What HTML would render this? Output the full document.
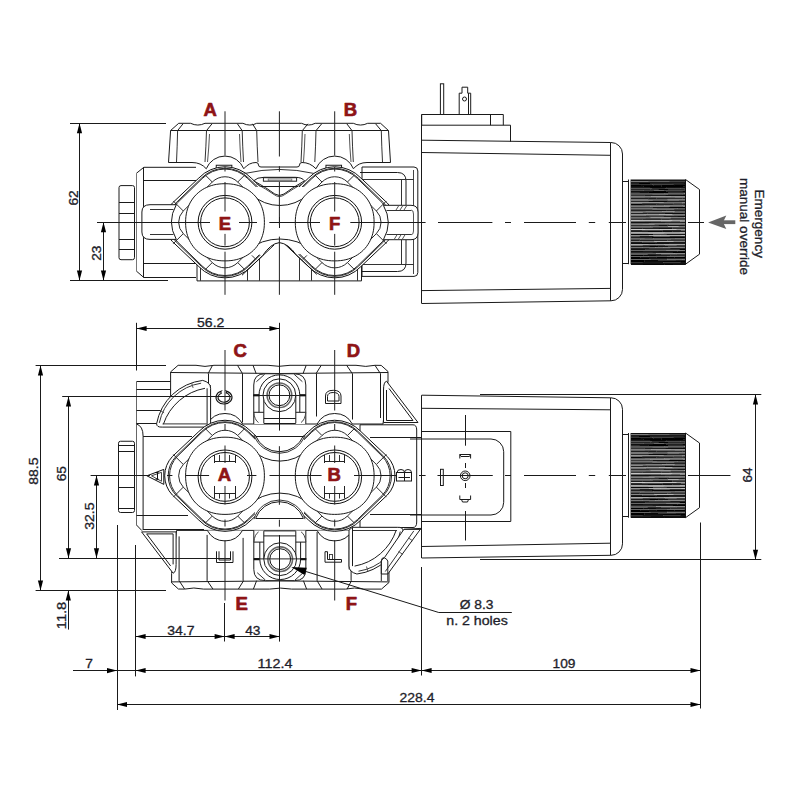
<!DOCTYPE html>
<html><head><meta charset="utf-8"><style>
html,body{margin:0;padding:0;background:#fff;}
svg{display:block;}
</style></head><body>
<svg width="800" height="800" viewBox="0 0 800 800" shape-rendering="geometricPrecision">
<rect width="800" height="800" fill="#fff"/>
<path d="M168.5 162.5 L170.6 130.5 L178.7 123.3 L190.6 123.3 Q197.8 126.8 205 123.3 L242.9 123.3 Q249.8 126.8 256.7 123.3 L301.6 123.3 Q308.4 126.8 315.2 123.3 L353.3 123.3 Q360.5 126.8 367.7 123.3 L380.6 123.3 L388.5 130.6 L390.5 162.5 Z" stroke="none" stroke-width="0" fill="#fff"/>
<path d="M168.5 162.5 L170.6 130.5 L178.7 123.3 L190.6 123.3 Q197.8 126.8 205 123.3 L242.9 123.3 Q249.8 126.8 256.7 123.3 L301.6 123.3 Q308.4 126.8 315.2 123.3 L353.3 123.3 Q360.5 126.8 367.7 123.3 L380.6 123.3 L388.5 130.6 L390.5 162.5" stroke="#1a1a1a" stroke-width="1" fill="none"/>
<line x1="170.6" y1="130.5" x2="388.5" y2="130.5" stroke="#1a1a1a" stroke-width="1"/>
<line x1="183" y1="123.8" x2="177.6" y2="130.6" stroke="#1a1a1a" stroke-width="1"/>
<path d="M177.6 130.6 Q177.27 146 176.5 162" stroke="#333" stroke-width="1" fill="none"/>
<line x1="212" y1="123.8" x2="206.5" y2="130.6" stroke="#1a1a1a" stroke-width="1"/>
<path d="M206.5 130.6 Q206.05 146 205 162" stroke="#333" stroke-width="1" fill="none"/>
<line x1="237.4" y1="123.8" x2="242.2" y2="130.6" stroke="#1a1a1a" stroke-width="1"/>
<path d="M242.2 130.6 Q242.59 146 243.5 162" stroke="#333" stroke-width="1" fill="none"/>
<line x1="252.5" y1="123.8" x2="256.7" y2="130.6" stroke="#1a1a1a" stroke-width="1"/>
<path d="M256.7 130.6 Q257.09 146 258 162" stroke="#333" stroke-width="1" fill="none"/>
<line x1="308" y1="123.8" x2="302.3" y2="130.6" stroke="#1a1a1a" stroke-width="1"/>
<path d="M302.3 130.6 Q301.91 146 301 162" stroke="#333" stroke-width="1" fill="none"/>
<line x1="321.7" y1="123.8" x2="316" y2="130.6" stroke="#1a1a1a" stroke-width="1"/>
<path d="M316 130.6 Q315.64 146 314.8 162" stroke="#333" stroke-width="1" fill="none"/>
<line x1="346.8" y1="123.8" x2="352" y2="130.6" stroke="#1a1a1a" stroke-width="1"/>
<path d="M352 130.6 Q352.39 146 353.3 162" stroke="#333" stroke-width="1" fill="none"/>
<line x1="375.6" y1="123.8" x2="381.3" y2="130.6" stroke="#1a1a1a" stroke-width="1"/>
<path d="M381.3 130.6 Q381.66 146 382.5 162" stroke="#333" stroke-width="1" fill="none"/>
<path d="M209.5 134 Q208.9 148 207.5 162" stroke="#555" stroke-width="1" fill="none"/>
<path d="M239.5 134 Q239.95 148 241 162" stroke="#555" stroke-width="1" fill="none"/>
<path d="M305 134 Q304.55 148 303.5 162" stroke="#555" stroke-width="1" fill="none"/>
<path d="M349.3 134 Q349.81 148 351 162" stroke="#555" stroke-width="1" fill="none"/>
<path d="M168.5 162.5 L192 162.5 Q201 162.5 206.3 168.8" stroke="#1a1a1a" stroke-width="1" fill="none"/>
<path d="M243.7 168.8 Q249 162.5 256 162.5 Q258.5 162.5 258.5 165 Q258.5 167 261 167 L297 167 Q299.5 167 299.5 165 Q299.5 162.5 302 162.5 Q310 162.5 316 168.8" stroke="#1a1a1a" stroke-width="1" fill="none"/>
<path d="M353.4 168.8 Q358.5 162.5 367 162.5 L390.5 162.5" stroke="#1a1a1a" stroke-width="1" fill="none"/>
<rect x="119" y="185.6" width="15.5" height="74.1" rx="2" stroke="#1a1a1a" stroke-width="1" fill="#fff"/>
<line x1="119" y1="202.5" x2="134.5" y2="202.5" stroke="#1a1a1a" stroke-width="1"/>
<line x1="119" y1="213.5" x2="134.5" y2="213.5" stroke="#1a1a1a" stroke-width="1"/>
<line x1="119" y1="239.5" x2="134.5" y2="239.5" stroke="#1a1a1a" stroke-width="1"/>
<line x1="119" y1="249.5" x2="134.5" y2="249.5" stroke="#1a1a1a" stroke-width="1"/>
<path d="M136.3 173.4 L143.8 167.3 L196 167.3 L196 277.5 L143.8 277.5 L136.3 271 Z" stroke="none" stroke-width="0" fill="#fff"/>
<path d="M136.3 173.4 L143.8 167.3 L196 167.3 M196 277.5 L143.8 277.5 L136.3 271" stroke="#1a1a1a" stroke-width="1" fill="none"/>
<line x1="136.5" y1="173.4" x2="136.5" y2="271" stroke="#777" stroke-width="1"/>
<line x1="143.5" y1="167.3" x2="143.5" y2="277.5" stroke="#1a1a1a" stroke-width="1"/>
<line x1="143.8" y1="180.5" x2="196" y2="180.5" stroke="#1a1a1a" stroke-width="1"/>
<line x1="143.8" y1="263.5" x2="196" y2="263.5" stroke="#1a1a1a" stroke-width="1"/>
<path d="M362 167 L414 167 Q417.8 167 417.8 171 L417.8 272.5 Q417.8 276.4 414 276.4 L362 276.4 Z" stroke="#1a1a1a" stroke-width="1" fill="#fff"/>
<line x1="413.5" y1="170" x2="413.5" y2="274" stroke="#444" stroke-width="1"/>
<path d="M360 172.5 L397.5 172.5 Q406 172.5 406 181 L406 205" stroke="#1a1a1a" stroke-width="1" fill="none"/>
<path d="M360 271.5 L397.5 271.5 Q406 271.5 406 263 L406 240" stroke="#1a1a1a" stroke-width="1" fill="none"/>
<line x1="360" y1="179.5" x2="413.9" y2="179.5" stroke="#333" stroke-width="1"/>
<line x1="360" y1="264.5" x2="413.9" y2="264.5" stroke="#333" stroke-width="1"/>
<line x1="401.5" y1="179.5" x2="401.5" y2="205" stroke="#333" stroke-width="1"/>
<line x1="401.5" y1="239" x2="401.5" y2="264.5" stroke="#333" stroke-width="1"/>
<path d="M197 262 L197 280.9 L361.5 280.9 L361.5 262" stroke="#1a1a1a" stroke-width="1" fill="#fff"/>
<line x1="200.5" y1="245" x2="200.5" y2="280.9" stroke="#333" stroke-width="1"/>
<line x1="247.5" y1="245" x2="247.5" y2="280.9" stroke="#333" stroke-width="1"/>
<line x1="259.5" y1="245" x2="259.5" y2="280.9" stroke="#333" stroke-width="1"/>
<line x1="299.5" y1="245" x2="299.5" y2="280.9" stroke="#333" stroke-width="1"/>
<line x1="311.5" y1="245" x2="311.5" y2="280.9" stroke="#333" stroke-width="1"/>
<line x1="357.5" y1="245" x2="357.5" y2="280.9" stroke="#333" stroke-width="1"/>
<path d="M206.25 168.75 A20.2 20.2 0 0 1 243.75 168.75" stroke="#1a1a1a" stroke-width="1" fill="#fff"/>
<rect x="216.25" y="165.25" width="15.6" height="3.5" rx="0" stroke="#1a1a1a" stroke-width="1" fill="none"/>
<path d="M315.95 168.75 A20.2 20.2 0 0 1 353.45 168.75" stroke="#1a1a1a" stroke-width="1" fill="#fff"/>
<rect x="325.95" y="165.25" width="15.6" height="3.5" rx="0" stroke="#1a1a1a" stroke-width="1" fill="none"/>
<path d="M251.16 178.03 L277.65 203.07 A28 28 0 0 1 277.65 241.53 L251.16 266.57 A36 36 0 0 1 198.84 266.57 L172.35 241.53 A28 28 0 0 1 172.35 203.07 L198.84 178.03 A36 36 0 0 1 251.16 178.03 Z" stroke="#111" stroke-width="1" fill="#fff"/>
<path d="M360.86 178.03 L387.35 203.07 A28 28 0 0 1 387.35 241.53 L360.86 266.57 A36 36 0 0 1 308.54 266.57 L282.05 241.53 A28 28 0 0 1 282.05 203.07 L308.54 178.03 A36 36 0 0 1 360.86 178.03 Z" stroke="#111" stroke-width="1" fill="#fff"/>
<path d="M248.68 178.29 L273.91 202.79 A28 28 0 0 1 273.91 241.81 L248.68 266.31 A33 33 0 0 1 201.32 266.31 L176.09 241.81 A28 28 0 0 1 176.09 202.79 L201.32 178.29 A33 33 0 0 1 248.68 178.29 Z" stroke="#2a2a2a" stroke-width="1" fill="none"/>
<path d="M247.88 178.67 L272.48 202.72 A28 28 0 0 1 272.48 241.88 L247.88 265.93 A32 32 0 0 1 202.12 265.93 L177.52 241.88 A28 28 0 0 1 177.52 202.72 L202.12 178.67 A32 32 0 0 1 247.88 178.67 Z" stroke="#2a2a2a" stroke-width="1" fill="none"/>
<path d="M237.73 182.03 L266.69 210.99 A16 16 0 0 1 266.69 233.61 L237.73 262.57 A18 18 0 0 1 212.27 262.57 L183.31 233.61 A16 16 0 0 1 183.31 210.99 L212.27 182.03 A18 18 0 0 1 237.73 182.03 Z" stroke="#2a2a2a" stroke-width="1" fill="none"/>
<line x1="212.27" y1="182.03" x2="205.27" y2="175.03" stroke="#2a2a2a" stroke-width="1"/>
<line x1="237.73" y1="182.03" x2="244.73" y2="175.03" stroke="#2a2a2a" stroke-width="1"/>
<line x1="266.69" y1="210.99" x2="276.69" y2="200.99" stroke="#2a2a2a" stroke-width="1"/>
<line x1="266.69" y1="233.61" x2="276.69" y2="243.61" stroke="#2a2a2a" stroke-width="1"/>
<line x1="237.73" y1="262.57" x2="244.73" y2="269.57" stroke="#2a2a2a" stroke-width="1"/>
<line x1="212.27" y1="262.57" x2="205.27" y2="269.57" stroke="#2a2a2a" stroke-width="1"/>
<line x1="183.31" y1="233.61" x2="173.31" y2="243.61" stroke="#2a2a2a" stroke-width="1"/>
<line x1="183.31" y1="210.99" x2="173.31" y2="200.99" stroke="#2a2a2a" stroke-width="1"/>
<path d="M358.38 178.29 L383.61 202.79 A28 28 0 0 1 383.61 241.81 L358.38 266.31 A33 33 0 0 1 311.02 266.31 L285.79 241.81 A28 28 0 0 1 285.79 202.79 L311.02 178.29 A33 33 0 0 1 358.38 178.29 Z" stroke="#2a2a2a" stroke-width="1" fill="none"/>
<path d="M357.58 178.67 L382.18 202.72 A28 28 0 0 1 382.18 241.88 L357.58 265.93 A32 32 0 0 1 311.82 265.93 L287.22 241.88 A28 28 0 0 1 287.22 202.72 L311.82 178.67 A32 32 0 0 1 357.58 178.67 Z" stroke="#2a2a2a" stroke-width="1" fill="none"/>
<path d="M347.43 182.03 L376.39 210.99 A16 16 0 0 1 376.39 233.61 L347.43 262.57 A18 18 0 0 1 321.97 262.57 L293.01 233.61 A16 16 0 0 1 293.01 210.99 L321.97 182.03 A18 18 0 0 1 347.43 182.03 Z" stroke="#2a2a2a" stroke-width="1" fill="none"/>
<line x1="321.97" y1="182.03" x2="314.97" y2="175.03" stroke="#2a2a2a" stroke-width="1"/>
<line x1="347.43" y1="182.03" x2="354.43" y2="175.03" stroke="#2a2a2a" stroke-width="1"/>
<line x1="376.39" y1="210.99" x2="386.39" y2="200.99" stroke="#2a2a2a" stroke-width="1"/>
<line x1="376.39" y1="233.61" x2="386.39" y2="243.61" stroke="#2a2a2a" stroke-width="1"/>
<line x1="347.43" y1="262.57" x2="354.43" y2="269.57" stroke="#2a2a2a" stroke-width="1"/>
<line x1="321.97" y1="262.57" x2="314.97" y2="269.57" stroke="#2a2a2a" stroke-width="1"/>
<line x1="293.01" y1="233.61" x2="283.01" y2="243.61" stroke="#2a2a2a" stroke-width="1"/>
<line x1="293.01" y1="210.99" x2="283.01" y2="200.99" stroke="#2a2a2a" stroke-width="1"/>
<path d="M255 187 L304 187 L304 245 L255 245 Z" stroke="none" stroke-width="0" fill="#fff"/>
<path d="M251.6 194.5 A41.78 41.78 0 0 0 308.1 194.5" stroke="#1a1a1a" stroke-width="1" fill="none"/>
<path d="M247.3 250 A38.9 38.9 0 0 1 312.4 250 L296.3 255.00 Q288.3 243.5 279.4 242.6 Q270.5 243.5 262.5 255.85 Z" stroke="none" stroke-width="0" fill="#fff"/>
<path d="M247.3 250 A53.66 53.66 0 0 1 312.4 250" stroke="#1a1a1a" stroke-width="1" fill="none"/>
<path d="M242.0 275.23 L262.5 255.85 Q270.5 243.5 279.4 242.6 Q288.3 243.5 296.3 255.00 L316.8 274.38" stroke="#111" stroke-width="1" fill="none"/>
<line x1="251.9" y1="255.4" x2="255.9" y2="259.4" stroke="#333" stroke-width="1"/>
<line x1="302.9" y1="259.4" x2="306.9" y2="255.4" stroke="#333" stroke-width="1"/>
<path d="M244.5 173.5 A154.25 154.25 0 0 1 314.3 173.5" stroke="#333" stroke-width="1" fill="none"/>
<path d="M253.7 180.8 Q257 177.3 264 177.3 L295 177.3 Q302 177.3 304.5 180.8 Q292 188 284 194 Q279.4 197 274.8 194 Q267 188 253.7 180.8 Z" stroke="#1a1a1a" stroke-width="1" fill="#fff"/>
<path d="M256 183.5 Q266 189 274 194.5 Q279.4 198.5 284.8 194.5 Q293 189 302.5 183.5" stroke="#444" stroke-width="1" fill="none"/>
<line x1="260.8" y1="186.5" x2="298" y2="186.5" stroke="#1a1a1a" stroke-width="1"/>
<rect x="263.4" y="177.7" width="33.2" height="3.5" rx="0" stroke="#222" stroke-width="1" fill="none"/>
<rect x="268.2" y="179" width="23.6" height="1.75" rx="0" stroke="#666" stroke-width="0.8" fill="none"/>
<path d="M264.4 222.3 L264.32 225.35 L264.09 228.11 L263.7 230.74 L263.15 233.28 L262.45 235.73 L261.6 238.1 L260.61 240.37 L259.47 242.56 L258.18 244.64 L256.77 246.63 L255.22 248.5 L253.54 250.26 L251.74 251.9 L249.83 253.42 L247.81 254.81 L245.68 256.07 L243.45 257.18 L241.12 258.16 L238.71 258.99 L236.21 259.68 L233.61 260.21 L230.93 260.59 L228.12 260.82 L225 260.9 L221.88 260.82 L219.07 260.59 L216.39 260.21 L213.79 259.68 L211.29 258.99 L208.88 258.16 L206.55 257.18 L204.32 256.07 L202.19 254.81 L200.17 253.42 L198.26 251.9 L196.46 250.26 L194.78 248.5 L193.23 246.63 L191.82 244.64 L190.53 242.56 L189.39 240.37 L188.4 238.1 L187.55 235.73 L186.85 233.28 L186.3 230.74 L185.91 228.11 L185.68 225.35 L185.6 222.3 L185.68 219.25 L185.91 216.49 L186.3 213.86 L186.85 211.32 L187.55 208.87 L188.4 206.5 L189.39 204.23 L190.53 202.04 L191.82 199.96 L193.23 197.97 L194.78 196.1 L196.46 194.34 L198.26 192.7 L200.17 191.18 L202.19 189.79 L204.32 188.53 L206.55 187.42 L208.88 186.44 L211.29 185.61 L213.79 184.92 L216.39 184.39 L219.07 184.01 L221.88 183.78 L225 183.7 L228.12 183.78 L230.93 184.01 L233.61 184.39 L236.21 184.92 L238.71 185.61 L241.12 186.44 L243.45 187.42 L245.68 188.53 L247.81 189.79 L249.83 191.18 L251.74 192.7 L253.54 194.34 L255.22 196.1 L256.77 197.97 L258.18 199.96 L259.47 202.04 L260.61 204.23 L261.6 206.5 L262.45 208.87 L263.15 211.32 L263.7 213.86 L264.09 216.49 L264.32 219.25 Z" stroke="#1a1a1a" stroke-width="1" fill="#fff"/>
<circle cx="225" cy="222.3" r="26.9" stroke="#111" stroke-width="1" fill="none"/>
<circle cx="225" cy="222.3" r="24.4" stroke="#111" stroke-width="1" fill="none"/>
<path d="M374.1 222.3 L374.02 225.35 L373.79 228.11 L373.4 230.74 L372.85 233.28 L372.15 235.73 L371.3 238.1 L370.31 240.37 L369.17 242.56 L367.88 244.64 L366.47 246.63 L364.92 248.5 L363.24 250.26 L361.44 251.9 L359.53 253.42 L357.51 254.81 L355.38 256.07 L353.15 257.18 L350.82 258.16 L348.41 258.99 L345.91 259.68 L343.31 260.21 L340.63 260.59 L337.82 260.82 L334.7 260.9 L331.58 260.82 L328.77 260.59 L326.09 260.21 L323.49 259.68 L320.99 258.99 L318.58 258.16 L316.25 257.18 L314.02 256.07 L311.89 254.81 L309.87 253.42 L307.96 251.9 L306.16 250.26 L304.48 248.5 L302.93 246.63 L301.52 244.64 L300.23 242.56 L299.09 240.37 L298.1 238.1 L297.25 235.73 L296.55 233.28 L296 230.74 L295.61 228.11 L295.38 225.35 L295.3 222.3 L295.38 219.25 L295.61 216.49 L296 213.86 L296.55 211.32 L297.25 208.87 L298.1 206.5 L299.09 204.23 L300.23 202.04 L301.52 199.96 L302.93 197.97 L304.48 196.1 L306.16 194.34 L307.96 192.7 L309.87 191.18 L311.89 189.79 L314.02 188.53 L316.25 187.42 L318.58 186.44 L320.99 185.61 L323.49 184.92 L326.09 184.39 L328.77 184.01 L331.58 183.78 L334.7 183.7 L337.82 183.78 L340.63 184.01 L343.31 184.39 L345.91 184.92 L348.41 185.61 L350.82 186.44 L353.15 187.42 L355.38 188.53 L357.51 189.79 L359.53 191.18 L361.44 192.7 L363.24 194.34 L364.92 196.1 L366.47 197.97 L367.88 199.96 L369.17 202.04 L370.31 204.23 L371.3 206.5 L372.15 208.87 L372.85 211.32 L373.4 213.86 L373.79 216.49 L374.02 219.25 Z" stroke="#1a1a1a" stroke-width="1" fill="#fff"/>
<circle cx="334.7" cy="222.3" r="26.9" stroke="#111" stroke-width="1" fill="none"/>
<circle cx="334.7" cy="222.3" r="24.4" stroke="#111" stroke-width="1" fill="none"/>
<path d="M176.3 204.7 L150 204.7 Q141.9 204.7 141.9 212 L141.9 232 Q141.9 239.4 150 239.4 L176.3 239.4 Q166.5 222 176.3 204.7 Z" stroke="#1a1a1a" stroke-width="1" fill="#fff"/>
<line x1="150" y1="209.5" x2="173.5" y2="209.5" stroke="#333" stroke-width="1"/>
<line x1="150" y1="234.5" x2="173.5" y2="234.5" stroke="#333" stroke-width="1"/>
<path d="M383.4 205.3 L411 205.3 Q418 205.3 418 212 L418 233 Q418 239.7 411 239.7 L383.4 239.7 Q393.2 222.5 383.4 205.3 Z" stroke="#1a1a1a" stroke-width="1" fill="#fff"/>
<line x1="386.5" y1="210.5" x2="411" y2="210.5" stroke="#333" stroke-width="1"/>
<line x1="386.5" y1="234.5" x2="411" y2="234.5" stroke="#333" stroke-width="1"/>
<path d="M411 210 Q413.5 210 413.5 214 L413.5 231 Q413.5 234.8 411 234.8" stroke="#555" stroke-width="1" fill="none"/>
<line x1="396" y1="210" x2="399" y2="205.3" stroke="#555" stroke-width="1"/>
<line x1="394" y1="239.7" x2="397" y2="234.8" stroke="#555" stroke-width="1"/>
<line x1="400" y1="210" x2="403" y2="205.3" stroke="#555" stroke-width="1"/>
<line x1="398" y1="239.7" x2="401" y2="234.8" stroke="#555" stroke-width="1"/>
<line x1="404" y1="210" x2="407" y2="205.3" stroke="#555" stroke-width="1"/>
<line x1="402" y1="239.7" x2="405" y2="234.8" stroke="#555" stroke-width="1"/>
<path d="M136.5 381.5 L168 381.5 L190 381.5 L190 530.6 L141.9 530.6 L136.5 525 Z" stroke="none" stroke-width="0" fill="#fff"/>
<path d="M136.5 381.5 L190 381.5 M141.9 530.6 L136.5 525" stroke="#1a1a1a" stroke-width="1" fill="none"/>
<line x1="136.5" y1="381.5" x2="136.5" y2="525" stroke="#666" stroke-width="1"/>
<line x1="136.5" y1="389.5" x2="208" y2="389.5" stroke="#1a1a1a" stroke-width="1"/>
<line x1="136.5" y1="410.5" x2="208" y2="410.5" stroke="#1a1a1a" stroke-width="1"/>
<line x1="136.5" y1="423.5" x2="208" y2="423.5" stroke="#1a1a1a" stroke-width="1"/>
<path d="M136.5 424 Q143.1 426 143.1 436.3 L143.1 530" stroke="#1a1a1a" stroke-width="1" fill="none"/>
<line x1="143.1" y1="436.5" x2="192" y2="436.5" stroke="#1a1a1a" stroke-width="1"/>
<line x1="136.5" y1="515.5" x2="188" y2="515.5" stroke="#1a1a1a" stroke-width="1"/>
<line x1="143.1" y1="529.5" x2="204" y2="529.5" stroke="#1a1a1a" stroke-width="1"/>
<rect x="118.5" y="441.25" width="16" height="71.25" rx="2" stroke="#1a1a1a" stroke-width="1" fill="#fff"/>
<line x1="118.5" y1="445.5" x2="134.5" y2="445.5" stroke="#1a1a1a" stroke-width="1"/>
<line x1="118.5" y1="451.5" x2="134.5" y2="451.5" stroke="#1a1a1a" stroke-width="1"/>
<line x1="118.5" y1="487.5" x2="134.5" y2="487.5" stroke="#1a1a1a" stroke-width="1"/>
<line x1="118.5" y1="508.5" x2="134.5" y2="508.5" stroke="#1a1a1a" stroke-width="1"/>
<path d="M360 424.8 L413 424.8 Q416.7 424.8 416.7 430 L416.7 522 Q416.7 527.5 413 527.5 L360 527.5 Z" stroke="#1a1a1a" stroke-width="1" fill="#fff"/>
<line x1="370" y1="437.5" x2="421" y2="437.5" stroke="#1a1a1a" stroke-width="1"/>
<line x1="370" y1="514.5" x2="421" y2="514.5" stroke="#1a1a1a" stroke-width="1"/>
<path d="M170.6 382 L170.6 371.9 L178.1 365.3 L196 365.3 Q205 367.5 214 365.3 L268 365.3 Q279 367.3 290 365.3 L356 365.3 Q366 367.5 375 365.3 L381.2 365.4 L388 371.5 L388 381 L383 424 L170.6 424 Z" stroke="#1a1a1a" stroke-width="1" fill="#fff"/>
<path d="M171 372.5 Q280 374.5 388 372.5" stroke="#1a1a1a" stroke-width="1" fill="none"/>
<line x1="212.5" y1="365.3" x2="208.1" y2="373.7" stroke="#1a1a1a" stroke-width="1"/>
<line x1="237.5" y1="365.3" x2="242.5" y2="373.7" stroke="#1a1a1a" stroke-width="1"/>
<line x1="253" y1="365.3" x2="256.2" y2="373.7" stroke="#1a1a1a" stroke-width="1"/>
<line x1="306.2" y1="365.3" x2="303" y2="373.7" stroke="#1a1a1a" stroke-width="1"/>
<line x1="321.2" y1="365.4" x2="316" y2="373.7" stroke="#1a1a1a" stroke-width="1"/>
<line x1="346.7" y1="365.4" x2="352.4" y2="373.7" stroke="#1a1a1a" stroke-width="1"/>
<line x1="375" y1="365.4" x2="380.5" y2="373.7" stroke="#1a1a1a" stroke-width="1"/>
<line x1="208.5" y1="373.7" x2="208.5" y2="425" stroke="#1a1a1a" stroke-width="1"/>
<line x1="242.5" y1="373.7" x2="242.5" y2="422.5" stroke="#1a1a1a" stroke-width="1"/>
<line x1="316.5" y1="373.7" x2="316.5" y2="416.5" stroke="#1a1a1a" stroke-width="1"/>
<line x1="352.5" y1="373.7" x2="352.5" y2="419.5" stroke="#1a1a1a" stroke-width="1"/>
<line x1="380.5" y1="373.7" x2="380.5" y2="418" stroke="#1a1a1a" stroke-width="1"/>
<line x1="210.5" y1="385" x2="210.5" y2="422.5" stroke="#555" stroke-width="1"/>
<path d="M386.5 381.2 L418 422.5 L383.5 422.5 L383.5 390 Q383.5 382 386.5 381.2" stroke="#1a1a1a" stroke-width="1" fill="#fff"/>
<line x1="389" y1="388.5" x2="413" y2="420.5" stroke="#1a1a1a" stroke-width="1"/>
<line x1="386.5" y1="390" x2="386.5" y2="420.5" stroke="#1a1a1a" stroke-width="1"/>
<line x1="386.5" y1="420.5" x2="413" y2="420.5" stroke="#1a1a1a" stroke-width="1"/>
<path d="M253.75 424 L253.75 385 Q253.75 373.75 265 373.75 L294 373.75 Q305.8 373.75 305.8 385 L305.8 424" stroke="#1a1a1a" stroke-width="1" fill="#fff"/>
<line x1="256.4" y1="381.7" x2="264.7" y2="374.25" stroke="#333" stroke-width="1"/>
<line x1="302.4" y1="381.7" x2="294.1" y2="374.25" stroke="#333" stroke-width="1"/>
<path d="M259 412.3 L259 395.25 A20.4 20.4 0 0 1 299.8 395.25 L299.8 412.3" stroke="#1a1a1a" stroke-width="1" fill="none"/>
<path d="M253.75 412.3 L263.8 412.3 M295.8 412.3 L305.8 412.3" stroke="#1a1a1a" stroke-width="1" fill="none"/>
<path d="M253.75 412.3 Q254.5 420 258.5 422.5 M305.8 412.3 Q305 420 301 422.5" stroke="#444" stroke-width="1" fill="none"/>
<path d="M263.8 423.25 L263.8 395.25 M295.8 395.25 L295.8 423.25" stroke="#1a1a1a" stroke-width="1" fill="none"/>
<circle cx="279.4" cy="395.25" r="16.4" stroke="#1a1a1a" stroke-width="1" fill="#fff"/>
<line x1="263.8" y1="418.5" x2="295.8" y2="418.5" stroke="#1a1a1a" stroke-width="1"/>
<line x1="263.8" y1="423.5" x2="295.8" y2="423.5" stroke="#1a1a1a" stroke-width="1"/>
<circle cx="279.4" cy="395.25" r="12.3" stroke="#666" stroke-width="1.6" fill="none"/>
<circle cx="279.4" cy="395.25" r="10.4" stroke="#111" stroke-width="1" fill="none"/>
<line x1="253.3" y1="395.5" x2="305.8" y2="395.5" stroke="#222" stroke-width="1"/>
<line x1="253.3" y1="395.25" x2="259.4" y2="395.25" stroke="#111" stroke-width="2.2"/>
<line x1="300" y1="395.25" x2="305.8" y2="395.25" stroke="#111" stroke-width="2.2"/>
<path d="M207.4 424 A20 20 0 0 1 242.6 424" stroke="#1a1a1a" stroke-width="1" fill="#fff"/>
<path d="M317.1 424 A20 20 0 0 1 352.3 424" stroke="#1a1a1a" stroke-width="1" fill="#fff"/>
<g transform="rotate(180 279.8 477.2)">
<path d="M170.6 382 L170.6 371.9 L178.1 365.3 L196 365.3 Q205 367.5 214 365.3 L268 365.3 Q279 367.3 290 365.3 L356 365.3 Q366 367.5 375 365.3 L381.2 365.4 L388 371.5 L388 381 L383 424 L170.6 424 Z" stroke="#1a1a1a" stroke-width="1" fill="#fff"/>
<path d="M171 372.5 Q280 374.5 388 372.5" stroke="#1a1a1a" stroke-width="1" fill="none"/>
<line x1="212.5" y1="365.3" x2="208.1" y2="373.7" stroke="#1a1a1a" stroke-width="1"/>
<line x1="237.5" y1="365.3" x2="242.5" y2="373.7" stroke="#1a1a1a" stroke-width="1"/>
<line x1="253" y1="365.3" x2="256.2" y2="373.7" stroke="#1a1a1a" stroke-width="1"/>
<line x1="306.2" y1="365.3" x2="303" y2="373.7" stroke="#1a1a1a" stroke-width="1"/>
<line x1="321.2" y1="365.4" x2="316" y2="373.7" stroke="#1a1a1a" stroke-width="1"/>
<line x1="346.7" y1="365.4" x2="352.4" y2="373.7" stroke="#1a1a1a" stroke-width="1"/>
<line x1="375" y1="365.4" x2="380.5" y2="373.7" stroke="#1a1a1a" stroke-width="1"/>
<line x1="208.5" y1="373.7" x2="208.5" y2="425" stroke="#1a1a1a" stroke-width="1"/>
<line x1="242.5" y1="373.7" x2="242.5" y2="422.5" stroke="#1a1a1a" stroke-width="1"/>
<line x1="316.5" y1="373.7" x2="316.5" y2="416.5" stroke="#1a1a1a" stroke-width="1"/>
<line x1="352.5" y1="373.7" x2="352.5" y2="419.5" stroke="#1a1a1a" stroke-width="1"/>
<line x1="380.5" y1="373.7" x2="380.5" y2="418" stroke="#1a1a1a" stroke-width="1"/>
<line x1="210.5" y1="385" x2="210.5" y2="422.5" stroke="#555" stroke-width="1"/>
<path d="M386.5 381.2 L418 422.5 L383.5 422.5 L383.5 390 Q383.5 382 386.5 381.2" stroke="#1a1a1a" stroke-width="1" fill="#fff"/>
<line x1="389" y1="388.5" x2="413" y2="420.5" stroke="#1a1a1a" stroke-width="1"/>
<line x1="386.5" y1="390" x2="386.5" y2="420.5" stroke="#1a1a1a" stroke-width="1"/>
<line x1="386.5" y1="420.5" x2="413" y2="420.5" stroke="#1a1a1a" stroke-width="1"/>
<path d="M253.75 424 L253.75 385 Q253.75 373.75 265 373.75 L294 373.75 Q305.8 373.75 305.8 385 L305.8 424" stroke="#1a1a1a" stroke-width="1" fill="#fff"/>
<line x1="256.4" y1="381.7" x2="264.7" y2="374.25" stroke="#333" stroke-width="1"/>
<line x1="302.4" y1="381.7" x2="294.1" y2="374.25" stroke="#333" stroke-width="1"/>
<path d="M259 412.3 L259 395.25 A20.4 20.4 0 0 1 299.8 395.25 L299.8 412.3" stroke="#1a1a1a" stroke-width="1" fill="none"/>
<path d="M253.75 412.3 L263.8 412.3 M295.8 412.3 L305.8 412.3" stroke="#1a1a1a" stroke-width="1" fill="none"/>
<path d="M253.75 412.3 Q254.5 420 258.5 422.5 M305.8 412.3 Q305 420 301 422.5" stroke="#444" stroke-width="1" fill="none"/>
<path d="M263.8 423.25 L263.8 395.25 M295.8 395.25 L295.8 423.25" stroke="#1a1a1a" stroke-width="1" fill="none"/>
<circle cx="279.4" cy="395.25" r="16.4" stroke="#1a1a1a" stroke-width="1" fill="#fff"/>
<line x1="263.8" y1="418.5" x2="295.8" y2="418.5" stroke="#1a1a1a" stroke-width="1"/>
<line x1="263.8" y1="423.5" x2="295.8" y2="423.5" stroke="#1a1a1a" stroke-width="1"/>
<circle cx="279.4" cy="395.25" r="12.3" stroke="#666" stroke-width="1.6" fill="none"/>
<circle cx="279.4" cy="395.25" r="10.4" stroke="#111" stroke-width="1" fill="none"/>
<line x1="253.3" y1="395.5" x2="305.8" y2="395.5" stroke="#222" stroke-width="1"/>
<line x1="253.3" y1="395.25" x2="259.4" y2="395.25" stroke="#111" stroke-width="2.2"/>
<line x1="300" y1="395.25" x2="305.8" y2="395.25" stroke="#111" stroke-width="2.2"/>
<path d="M207.4 424 A20 20 0 0 1 242.6 424" stroke="#1a1a1a" stroke-width="1" fill="#fff"/>
<path d="M317.1 424 A20 20 0 0 1 352.3 424" stroke="#1a1a1a" stroke-width="1" fill="#fff"/>
</g>
<path d="M349 530.1 L352.4 527.3 L397.4 527.3 Q403 527 403 530.7 A53.35 53.35 0 0 1 356.9 574 Q349 572 349 566 Z" stroke="#1a1a1a" stroke-width="1" fill="#fff"/>
<path d="M400.3 531.5 A50.6 50.6 0 0 1 358.5 571.2" stroke="#333" stroke-width="1" fill="none"/>
<path d="M396.25 530.1 A54.1 54.1 0 0 1 354.6 566.1" stroke="#1a1a1a" stroke-width="1" fill="none"/>
<line x1="352.9" y1="530.5" x2="397" y2="530.5" stroke="#333" stroke-width="1"/>
<line x1="352.5" y1="527.3" x2="352.5" y2="566.1" stroke="#1a1a1a" stroke-width="1"/>
<line x1="395.5" y1="541.5" x2="399.5" y2="544" stroke="#555" stroke-width="1"/>
<line x1="366.5" y1="566.5" x2="368" y2="571.5" stroke="#555" stroke-width="1"/>
<g transform="rotate(180 279.8 477.2)">
<path d="M349 530.1 L352.4 527.3 L397.4 527.3 Q403 527 403 530.7 A53.35 53.35 0 0 1 356.9 574 Q349 572 349 566 Z" stroke="#1a1a1a" stroke-width="1" fill="#fff"/>
<path d="M400.3 531.5 A50.6 50.6 0 0 1 358.5 571.2" stroke="#333" stroke-width="1" fill="none"/>
<path d="M396.25 530.1 A54.1 54.1 0 0 1 354.6 566.1" stroke="#1a1a1a" stroke-width="1" fill="none"/>
<line x1="352.9" y1="530.5" x2="397" y2="530.5" stroke="#333" stroke-width="1"/>
<line x1="352.5" y1="527.3" x2="352.5" y2="566.1" stroke="#1a1a1a" stroke-width="1"/>
<line x1="395.5" y1="541.5" x2="399.5" y2="544" stroke="#555" stroke-width="1"/>
<line x1="366.5" y1="566.5" x2="368" y2="571.5" stroke="#555" stroke-width="1"/>
</g>
<path d="M421 528.4 L387.8 574 L381.3 574 L381.3 561 Q381.3 557.5 384.5 557.5 L404 529.2 Z" stroke="#1a1a1a" stroke-width="1" fill="#fff"/>
<line x1="413.8" y1="530.9" x2="385.3" y2="571.5" stroke="#333" stroke-width="1"/>
<path d="M381.3 581 L381.3 561 Q384.5 555 387.8 561 L387.8 581" stroke="#222" stroke-width="1" fill="none"/>
<line x1="404" y1="529.5" x2="421" y2="529.5" stroke="#333" stroke-width="1"/>
<line x1="408.5" y1="538" x2="413" y2="541" stroke="#555" stroke-width="1"/>
<line x1="398.5" y1="551.5" x2="403" y2="554.5" stroke="#555" stroke-width="1"/>
<path d="M251.16 431.53 L277.65 456.57 A28 28 0 0 1 277.65 495.03 L251.16 520.07 A36 36 0 0 1 198.84 520.07 L172.35 495.03 A28 28 0 0 1 172.35 456.57 L198.84 431.53 A36 36 0 0 1 251.16 431.53 Z" stroke="#111" stroke-width="1" fill="#fff"/>
<path d="M360.86 431.53 L387.35 456.57 A28 28 0 0 1 387.35 495.03 L360.86 520.07 A36 36 0 0 1 308.54 520.07 L282.05 495.03 A28 28 0 0 1 282.05 456.57 L308.54 431.53 A36 36 0 0 1 360.86 431.53 Z" stroke="#111" stroke-width="1" fill="#fff"/>
<path d="M248.68 431.79 L273.91 456.29 A28 28 0 0 1 273.91 495.31 L248.68 519.81 A33 33 0 0 1 201.32 519.81 L176.09 495.31 A28 28 0 0 1 176.09 456.29 L201.32 431.79 A33 33 0 0 1 248.68 431.79 Z" stroke="#2a2a2a" stroke-width="1" fill="none"/>
<path d="M247.88 432.17 L272.48 456.22 A28 28 0 0 1 272.48 495.38 L247.88 519.43 A32 32 0 0 1 202.12 519.43 L177.52 495.38 A28 28 0 0 1 177.52 456.22 L202.12 432.17 A32 32 0 0 1 247.88 432.17 Z" stroke="#2a2a2a" stroke-width="1" fill="none"/>
<path d="M237.73 435.53 L266.69 464.49 A16 16 0 0 1 266.69 487.11 L237.73 516.07 A18 18 0 0 1 212.27 516.07 L183.31 487.11 A16 16 0 0 1 183.31 464.49 L212.27 435.53 A18 18 0 0 1 237.73 435.53 Z" stroke="#2a2a2a" stroke-width="1" fill="none"/>
<line x1="212.27" y1="435.53" x2="205.27" y2="428.53" stroke="#2a2a2a" stroke-width="1"/>
<line x1="237.73" y1="435.53" x2="244.73" y2="428.53" stroke="#2a2a2a" stroke-width="1"/>
<line x1="266.69" y1="464.49" x2="276.69" y2="454.49" stroke="#2a2a2a" stroke-width="1"/>
<line x1="266.69" y1="487.11" x2="276.69" y2="497.11" stroke="#2a2a2a" stroke-width="1"/>
<line x1="237.73" y1="516.07" x2="244.73" y2="523.07" stroke="#2a2a2a" stroke-width="1"/>
<line x1="212.27" y1="516.07" x2="205.27" y2="523.07" stroke="#2a2a2a" stroke-width="1"/>
<line x1="183.31" y1="487.11" x2="173.31" y2="497.11" stroke="#2a2a2a" stroke-width="1"/>
<line x1="183.31" y1="464.49" x2="173.31" y2="454.49" stroke="#2a2a2a" stroke-width="1"/>
<path d="M358.38 431.79 L383.61 456.29 A28 28 0 0 1 383.61 495.31 L358.38 519.81 A33 33 0 0 1 311.02 519.81 L285.79 495.31 A28 28 0 0 1 285.79 456.29 L311.02 431.79 A33 33 0 0 1 358.38 431.79 Z" stroke="#2a2a2a" stroke-width="1" fill="none"/>
<path d="M357.58 432.17 L382.18 456.22 A28 28 0 0 1 382.18 495.38 L357.58 519.43 A32 32 0 0 1 311.82 519.43 L287.22 495.38 A28 28 0 0 1 287.22 456.22 L311.82 432.17 A32 32 0 0 1 357.58 432.17 Z" stroke="#2a2a2a" stroke-width="1" fill="none"/>
<path d="M347.43 435.53 L376.39 464.49 A16 16 0 0 1 376.39 487.11 L347.43 516.07 A18 18 0 0 1 321.97 516.07 L293.01 487.11 A16 16 0 0 1 293.01 464.49 L321.97 435.53 A18 18 0 0 1 347.43 435.53 Z" stroke="#2a2a2a" stroke-width="1" fill="none"/>
<line x1="321.97" y1="435.53" x2="314.97" y2="428.53" stroke="#2a2a2a" stroke-width="1"/>
<line x1="347.43" y1="435.53" x2="354.43" y2="428.53" stroke="#2a2a2a" stroke-width="1"/>
<line x1="376.39" y1="464.49" x2="386.39" y2="454.49" stroke="#2a2a2a" stroke-width="1"/>
<line x1="376.39" y1="487.11" x2="386.39" y2="497.11" stroke="#2a2a2a" stroke-width="1"/>
<line x1="347.43" y1="516.07" x2="354.43" y2="523.07" stroke="#2a2a2a" stroke-width="1"/>
<line x1="321.97" y1="516.07" x2="314.97" y2="523.07" stroke="#2a2a2a" stroke-width="1"/>
<line x1="293.01" y1="487.11" x2="283.01" y2="497.11" stroke="#2a2a2a" stroke-width="1"/>
<line x1="293.01" y1="464.49" x2="283.01" y2="454.49" stroke="#2a2a2a" stroke-width="1"/>
<path d="M255 437 L304 437 L304 517 L255 517 Z" stroke="none" stroke-width="0" fill="#fff"/>
<line x1="256" y1="436.5" x2="303" y2="436.5" stroke="#1a1a1a" stroke-width="1"/>
<path d="M255.5 435.6 A25.94 25.94 0 0 0 303.5 435.6" stroke="#1a1a1a" stroke-width="1" fill="none"/>
<path d="M254 435 A26.92 26.92 0 0 0 305 435" stroke="#333" stroke-width="1" fill="none"/>
<path d="M251.6 449.4 A39.96 39.96 0 0 0 308.1 449.4" stroke="#1a1a1a" stroke-width="1" fill="none"/>
<line x1="256" y1="518.5" x2="303" y2="518.5" stroke="#1a1a1a" stroke-width="1"/>
<path d="M255.5 518.6 A25.49 25.49 0 0 1 303.5 518.6" stroke="#1a1a1a" stroke-width="1" fill="none"/>
<path d="M254 519.2 A26.53 26.53 0 0 1 305 519.2" stroke="#333" stroke-width="1" fill="none"/>
<path d="M247.3 506.5 A46.23 46.23 0 0 1 312.4 506.5" stroke="#1a1a1a" stroke-width="1" fill="none"/>
<path d="M264.4 475.8 L264.32 478.85 L264.09 481.61 L263.7 484.24 L263.15 486.78 L262.45 489.23 L261.6 491.6 L260.61 493.87 L259.47 496.06 L258.18 498.14 L256.77 500.13 L255.22 502 L253.54 503.76 L251.74 505.4 L249.83 506.92 L247.81 508.31 L245.68 509.57 L243.45 510.68 L241.12 511.66 L238.71 512.49 L236.21 513.18 L233.61 513.71 L230.93 514.09 L228.12 514.32 L225 514.4 L221.88 514.32 L219.07 514.09 L216.39 513.71 L213.79 513.18 L211.29 512.49 L208.88 511.66 L206.55 510.68 L204.32 509.57 L202.19 508.31 L200.17 506.92 L198.26 505.4 L196.46 503.76 L194.78 502 L193.23 500.13 L191.82 498.14 L190.53 496.06 L189.39 493.87 L188.4 491.6 L187.55 489.23 L186.85 486.78 L186.3 484.24 L185.91 481.61 L185.68 478.85 L185.6 475.8 L185.68 472.75 L185.91 469.99 L186.3 467.36 L186.85 464.82 L187.55 462.37 L188.4 460 L189.39 457.73 L190.53 455.54 L191.82 453.46 L193.23 451.47 L194.78 449.6 L196.46 447.84 L198.26 446.2 L200.17 444.68 L202.19 443.29 L204.32 442.03 L206.55 440.92 L208.88 439.94 L211.29 439.11 L213.79 438.42 L216.39 437.89 L219.07 437.51 L221.88 437.28 L225 437.2 L228.12 437.28 L230.93 437.51 L233.61 437.89 L236.21 438.42 L238.71 439.11 L241.12 439.94 L243.45 440.92 L245.68 442.03 L247.81 443.29 L249.83 444.68 L251.74 446.2 L253.54 447.84 L255.22 449.6 L256.77 451.47 L258.18 453.46 L259.47 455.54 L260.61 457.73 L261.6 460 L262.45 462.37 L263.15 464.82 L263.7 467.36 L264.09 469.99 L264.32 472.75 Z" stroke="#1a1a1a" stroke-width="1" fill="#fff"/>
<circle cx="225" cy="476.9" r="26.9" stroke="#111" stroke-width="1" fill="none"/>
<circle cx="225" cy="476.9" r="24.4" stroke="#111" stroke-width="1" fill="none"/>
<line x1="214.5" y1="455" x2="214.5" y2="463" stroke="#222" stroke-width="1"/>
<line x1="235.5" y1="455" x2="235.5" y2="463" stroke="#222" stroke-width="1"/>
<line x1="219.5" y1="461.5" x2="219.5" y2="455" stroke="#333" stroke-width="1"/>
<line x1="229.5" y1="461.5" x2="229.5" y2="455" stroke="#333" stroke-width="1"/>
<line x1="214.5" y1="461.5" x2="235" y2="461.5" stroke="#222" stroke-width="1"/>
<line x1="214.5" y1="486" x2="214.5" y2="498.5" stroke="#222" stroke-width="1"/>
<line x1="235.5" y1="486" x2="235.5" y2="498.5" stroke="#222" stroke-width="1"/>
<line x1="219.5" y1="493" x2="219.5" y2="498.5" stroke="#333" stroke-width="1"/>
<line x1="229.5" y1="493" x2="229.5" y2="498.5" stroke="#333" stroke-width="1"/>
<line x1="214.5" y1="493.5" x2="235" y2="493.5" stroke="#222" stroke-width="1"/>
<path d="M374.1 475.8 L374.02 478.85 L373.79 481.61 L373.4 484.24 L372.85 486.78 L372.15 489.23 L371.3 491.6 L370.31 493.87 L369.17 496.06 L367.88 498.14 L366.47 500.13 L364.92 502 L363.24 503.76 L361.44 505.4 L359.53 506.92 L357.51 508.31 L355.38 509.57 L353.15 510.68 L350.82 511.66 L348.41 512.49 L345.91 513.18 L343.31 513.71 L340.63 514.09 L337.82 514.32 L334.7 514.4 L331.58 514.32 L328.77 514.09 L326.09 513.71 L323.49 513.18 L320.99 512.49 L318.58 511.66 L316.25 510.68 L314.02 509.57 L311.89 508.31 L309.87 506.92 L307.96 505.4 L306.16 503.76 L304.48 502 L302.93 500.13 L301.52 498.14 L300.23 496.06 L299.09 493.87 L298.1 491.6 L297.25 489.23 L296.55 486.78 L296 484.24 L295.61 481.61 L295.38 478.85 L295.3 475.8 L295.38 472.75 L295.61 469.99 L296 467.36 L296.55 464.82 L297.25 462.37 L298.1 460 L299.09 457.73 L300.23 455.54 L301.52 453.46 L302.93 451.47 L304.48 449.6 L306.16 447.84 L307.96 446.2 L309.87 444.68 L311.89 443.29 L314.02 442.03 L316.25 440.92 L318.58 439.94 L320.99 439.11 L323.49 438.42 L326.09 437.89 L328.77 437.51 L331.58 437.28 L334.7 437.2 L337.82 437.28 L340.63 437.51 L343.31 437.89 L345.91 438.42 L348.41 439.11 L350.82 439.94 L353.15 440.92 L355.38 442.03 L357.51 443.29 L359.53 444.68 L361.44 446.2 L363.24 447.84 L364.92 449.6 L366.47 451.47 L367.88 453.46 L369.17 455.54 L370.31 457.73 L371.3 460 L372.15 462.37 L372.85 464.82 L373.4 467.36 L373.79 469.99 L374.02 472.75 Z" stroke="#1a1a1a" stroke-width="1" fill="#fff"/>
<circle cx="334.7" cy="476.9" r="26.9" stroke="#111" stroke-width="1" fill="none"/>
<circle cx="334.7" cy="476.9" r="24.4" stroke="#111" stroke-width="1" fill="none"/>
<line x1="324.5" y1="455" x2="324.5" y2="463" stroke="#222" stroke-width="1"/>
<line x1="344.5" y1="455" x2="344.5" y2="463" stroke="#222" stroke-width="1"/>
<line x1="329.5" y1="461.5" x2="329.5" y2="455" stroke="#333" stroke-width="1"/>
<line x1="339.5" y1="461.5" x2="339.5" y2="455" stroke="#333" stroke-width="1"/>
<line x1="324.2" y1="461.5" x2="344.7" y2="461.5" stroke="#222" stroke-width="1"/>
<line x1="324.5" y1="486" x2="324.5" y2="498.5" stroke="#222" stroke-width="1"/>
<line x1="344.5" y1="486" x2="344.5" y2="498.5" stroke="#222" stroke-width="1"/>
<line x1="329.5" y1="493" x2="329.5" y2="498.5" stroke="#333" stroke-width="1"/>
<line x1="339.5" y1="493" x2="339.5" y2="498.5" stroke="#333" stroke-width="1"/>
<line x1="324.2" y1="493.5" x2="344.7" y2="493.5" stroke="#222" stroke-width="1"/>
<path d="M163.8 469.4 L146.9 475.8 L163.8 484.4 Z" stroke="#111" stroke-width="1" fill="none"/>
<path d="M161.5 472.3 L151.5 475.8 L161.5 481.3 Z" stroke="#444" stroke-width="1" fill="none"/>
<line x1="157.5" y1="472.5" x2="157.5" y2="479.5" stroke="#111" stroke-width="1"/>
<line x1="155.5" y1="472.5" x2="158.5" y2="472.5" stroke="#111" stroke-width="1"/>
<line x1="155.5" y1="479.2" x2="158.5" y2="479.2" stroke="#111" stroke-width="1"/>
<rect x="396.5" y="472.5" width="15" height="8.5" rx="0" stroke="#1a1a1a" stroke-width="1" fill="none"/>
<path d="M397 472.5 Q397 469.5 401 469.5 Q404.5 469.5 404.5 472.5 Q404.5 469.5 408 469.5 Q411.5 469.5 411.5 472.5" stroke="#1a1a1a" stroke-width="1" fill="none"/>
<line x1="404.5" y1="472.5" x2="404.5" y2="481" stroke="#1a1a1a" stroke-width="1"/>
<line x1="398.5" y1="477.5" x2="410" y2="477.5" stroke="#1a1a1a" stroke-width="1"/>
<path d="M226.47 391.12 A8 6.6 0 1 1 221.00 391.28 A1 1 0 0 0 221.75 392.95 A6 4.8 0 1 0 225.85 392.83 A1 1 0 0 0 226.47 391.12 Z" stroke="#111" stroke-width="1.1" fill="none"/>
<path d="M325.5 403.5 L325.5 396 Q325.5 390.3 333.2 390.3 Q341 390.3 341 396 L341 403.5 Z" stroke="#1a1a1a" stroke-width="1" fill="none"/>
<path d="M327.5 401 L327.5 396.5 Q327.5 392.5 333.2 392.5 Q339 392.5 339 396.5 L339 401 Z" stroke="#1a1a1a" stroke-width="1" fill="none"/>
<path d="M216.5 551.3 L216.5 562.5 L233 562.5 L233 551.3" stroke="#1a1a1a" stroke-width="1" fill="none"/>
<path d="M219 551.3 L219 560 L230.5 560 L230.5 551.3" stroke="#1a1a1a" stroke-width="1" fill="none"/>
<path d="M325 551.7 L325 562.2 L341.5 562.2 L341.5 559.5 L327.5 559.5 L327.5 551.7 Z" stroke="#1a1a1a" stroke-width="1" fill="none"/>
<rect x="329.5" y="554.5" width="3" height="5" rx="0" stroke="#1a1a1a" stroke-width="0.8" fill="none"/>
<line x1="70" y1="123.5" x2="166" y2="123.5" stroke="#1a1a1a" stroke-width="1"/>
<line x1="70" y1="280.5" x2="168" y2="280.5" stroke="#1a1a1a" stroke-width="1"/>
<line x1="79.5" y1="123.3" x2="79.5" y2="280.6" stroke="#1a1a1a" stroke-width="1"/>
<path d="M79.5 123.3 L76.9 133.3 L82.1 133.3 Z" fill="#000"/>
<path d="M79.5 280.6 L76.9 270.6 L82.1 270.6 Z" fill="#000"/>
<line x1="103.5" y1="222.3" x2="103.5" y2="280.6" stroke="#1a1a1a" stroke-width="1"/>
<path d="M103.5 222.3 L100.9 232.3 L106.1 232.3 Z" fill="#000"/>
<path d="M103.5 280.6 L100.9 270.6 L106.1 270.6 Z" fill="#000"/>
<text x="77.6" y="197.9" font-family="Liberation Sans" font-size="12" font-weight="normal" fill="#1e1e2a" text-anchor="middle" textLength="15.26" lengthAdjust="spacingAndGlyphs" transform="rotate(-90 77.6 197.9)" stroke="#1e1e2a" stroke-width="0.3">62</text>
<text x="100.7" y="253.2" font-family="Liberation Sans" font-size="12" font-weight="normal" fill="#1e1e2a" text-anchor="middle" textLength="15.26" lengthAdjust="spacingAndGlyphs" transform="rotate(-90 100.7 253.2)" stroke="#1e1e2a" stroke-width="0.3">23</text>
<text x="210.2" y="116.2" font-family="Liberation Sans" font-size="18.5" font-weight="bold" fill="#8e1416" text-anchor="middle" stroke="#8e1416" stroke-width="0.7" stroke-linejoin="round">A</text>
<text x="350.4" y="116.2" font-family="Liberation Sans" font-size="18.5" font-weight="bold" fill="#8e1416" text-anchor="middle" stroke="#8e1416" stroke-width="0.7" stroke-linejoin="round">B</text>
<text x="225" y="230.2" font-family="Liberation Sans" font-size="18.5" font-weight="bold" fill="#8e1416" text-anchor="middle" stroke="#8e1416" stroke-width="0.7" stroke-linejoin="round">E</text>
<text x="334.7" y="230.2" font-family="Liberation Sans" font-size="18.5" font-weight="bold" fill="#8e1416" text-anchor="middle" stroke="#8e1416" stroke-width="0.7" stroke-linejoin="round">F</text>
<line x1="97" y1="222.5" x2="210" y2="222.5" stroke="#1a1a1a" stroke-width="1"/>
<line x1="239" y1="222.5" x2="257" y2="222.5" stroke="#1a1a1a" stroke-width="1"/>
<line x1="269.3" y1="222.5" x2="320" y2="222.5" stroke="#1a1a1a" stroke-width="1"/>
<line x1="350.3" y1="222.5" x2="425.6" y2="222.5" stroke="#1a1a1a" stroke-width="1"/>
<line x1="438" y1="222.5" x2="492.4" y2="222.5" stroke="#1a1a1a" stroke-width="1"/>
<line x1="505" y1="222.5" x2="511" y2="222.5" stroke="#1a1a1a" stroke-width="1"/>
<line x1="524" y1="222.5" x2="576" y2="222.5" stroke="#1a1a1a" stroke-width="1"/>
<line x1="588.8" y1="222.5" x2="595.2" y2="222.5" stroke="#1a1a1a" stroke-width="1"/>
<line x1="608.8" y1="222.5" x2="626" y2="222.5" stroke="#1a1a1a" stroke-width="1"/>
<line x1="640" y1="222.5" x2="685" y2="222.5" stroke="#333" stroke-width="1"/>
<line x1="688" y1="222.5" x2="704" y2="222.5" stroke="#1a1a1a" stroke-width="1"/>
<line x1="279.5" y1="217" x2="279.5" y2="228" stroke="#1a1a1a" stroke-width="1"/>
<line x1="225" y1="111.3" x2="225" y2="155.5" stroke="#222" stroke-width="1"/>
<line x1="225" y1="167" x2="225" y2="171.5" stroke="#222" stroke-width="1"/>
<line x1="225" y1="182" x2="225" y2="211.5" stroke="#222" stroke-width="1"/>
<line x1="225" y1="233.9" x2="225" y2="245.6" stroke="#222" stroke-width="1"/>
<line x1="225" y1="251.7" x2="225" y2="294.8" stroke="#222" stroke-width="1"/>
<line x1="334.7" y1="111.3" x2="334.7" y2="155.5" stroke="#222" stroke-width="1"/>
<line x1="334.7" y1="167" x2="334.7" y2="171.5" stroke="#222" stroke-width="1"/>
<line x1="334.7" y1="182" x2="334.7" y2="211.5" stroke="#222" stroke-width="1"/>
<line x1="334.7" y1="233.9" x2="334.7" y2="245.6" stroke="#222" stroke-width="1"/>
<line x1="334.7" y1="251.7" x2="334.7" y2="294.8" stroke="#222" stroke-width="1"/>
<line x1="279.4" y1="111.3" x2="279.4" y2="156.5" stroke="#222" stroke-width="1"/>
<line x1="279.4" y1="166.2" x2="279.4" y2="171.7" stroke="#222" stroke-width="1"/>
<line x1="279.4" y1="181.9" x2="279.4" y2="224.8" stroke="#222" stroke-width="1"/>
<line x1="279.4" y1="236.6" x2="279.4" y2="294.8" stroke="#222" stroke-width="1"/>
<rect x="440.4" y="83.8" width="3.3" height="30.7" rx="0" stroke="#1a1a1a" stroke-width="1" fill="none"/>
<path d="M459.2 114.5 L459.2 93.2 L462 93.2 L462 87.2 L467.7 87.2 L467.7 93.2 L470.7 93.2 L470.7 114.5" stroke="#1a1a1a" stroke-width="1" fill="none"/>
<line x1="468.5" y1="93.2" x2="468.5" y2="114.5" stroke="#1a1a1a" stroke-width="1"/>
<circle cx="464.5" cy="99" r="2" stroke="#1a1a1a" stroke-width="1" fill="none"/>
<path d="M421.7 125.2 L421.7 114.5 L503.3 114.5 L503.3 125.2" stroke="#1a1a1a" stroke-width="1" fill="none"/>
<line x1="490.5" y1="114.5" x2="490.5" y2="125.2" stroke="#1a1a1a" stroke-width="1"/>
<path d="M421.7 125.2 L510.5 125.2 L510.5 141.7" stroke="#1a1a1a" stroke-width="1" fill="none"/>
<line x1="421.7" y1="140.2" x2="610.5" y2="142.5" stroke="#1a1a1a" stroke-width="1"/>
<line x1="421.7" y1="152.5" x2="610.5" y2="155.3" stroke="#1a1a1a" stroke-width="1"/>
<line x1="421.5" y1="114.5" x2="421.5" y2="303.5" stroke="#1a1a1a" stroke-width="1"/>
<path d="M610.5 142.5 L611 142.5 A11.5 11.5 0 0 1 622.5 154 L622.5 289.3 A11.5 11.5 0 0 1 611 300.8 L610.5 300.8" stroke="#1a1a1a" stroke-width="1" fill="none"/>
<line x1="610.5" y1="142.5" x2="610.5" y2="300.8" stroke="#1a1a1a" stroke-width="1"/>
<line x1="421.7" y1="303.5" x2="610.5" y2="300.8" stroke="#1a1a1a" stroke-width="1"/>
<line x1="421.7" y1="290.6" x2="610.5" y2="288.4" stroke="#1a1a1a" stroke-width="1"/>
<line x1="622.5" y1="181.5" x2="628.5" y2="181.5" stroke="#1a1a1a" stroke-width="1"/>
<line x1="622.5" y1="263.5" x2="628.5" y2="263.5" stroke="#1a1a1a" stroke-width="1"/>
<line x1="628.5" y1="179.5" x2="628.5" y2="264.2" stroke="#1a1a1a" stroke-width="1"/>
<line x1="630.5" y1="179.5" x2="630.5" y2="264.2" stroke="#999" stroke-width="1"/>
<rect x="631" y="180" width="17.02" height="1" fill="#161616"/>
<rect x="647.72" y="180" width="19.43" height="1" fill="#222222"/>
<rect x="666.85" y="180" width="18.66" height="1" fill="#212121"/>
<rect x="685.21" y="180" width="0.59" height="1" fill="#050505"/>
<rect x="631" y="181" width="17.39" height="1" fill="#7c7c7c"/>
<rect x="648.09" y="181" width="9.88" height="1" fill="#626262"/>
<rect x="657.67" y="181" width="11.75" height="1" fill="#666666"/>
<rect x="669.12" y="181" width="16.34" height="1" fill="#464646"/>
<rect x="685.16" y="181" width="0.64" height="1" fill="#565656"/>
<rect x="631" y="182" width="19.02" height="1" fill="#1d1d1d"/>
<rect x="649.72" y="182" width="19.46" height="1" fill="#1c1c1c"/>
<rect x="668.88" y="182" width="16.92" height="1" fill="#1b1b1b"/>
<rect x="631" y="183" width="8.32" height="1" fill="#212121"/>
<rect x="639.02" y="183" width="11.23" height="1" fill="#000000"/>
<rect x="649.96" y="183" width="22.05" height="1" fill="#212121"/>
<rect x="671.71" y="183" width="12.35" height="1" fill="#262626"/>
<rect x="683.76" y="183" width="2.04" height="1" fill="#151515"/>
<rect x="631" y="184" width="21.47" height="1" fill="#363636"/>
<rect x="652.17" y="184" width="21.83" height="1" fill="#424242"/>
<rect x="673.71" y="184" width="12.09" height="1" fill="#222222"/>
<rect x="631" y="185" width="10.34" height="1" fill="#000000"/>
<rect x="641.04" y="185" width="12.52" height="1" fill="#080808"/>
<rect x="653.26" y="185" width="8.35" height="1" fill="#0d0d0d"/>
<rect x="661.31" y="185" width="13.03" height="1" fill="#000000"/>
<rect x="674.04" y="185" width="11.76" height="1" fill="#000000"/>
<rect x="631" y="186" width="12.72" height="1" fill="#0b0b0b"/>
<rect x="643.42" y="186" width="18.17" height="1" fill="#000000"/>
<rect x="661.29" y="186" width="21.95" height="1" fill="#000000"/>
<rect x="682.94" y="186" width="2.86" height="1" fill="#222222"/>
<rect x="631" y="187" width="19.33" height="1" fill="#1b1b1b"/>
<rect x="650.03" y="187" width="16.4" height="1" fill="#050505"/>
<rect x="666.13" y="187" width="8.95" height="1" fill="#101010"/>
<rect x="674.78" y="187" width="11.02" height="1" fill="#111111"/>
<rect x="631" y="188" width="21.32" height="1" fill="#545454"/>
<rect x="652.02" y="188" width="13.12" height="1" fill="#303030"/>
<rect x="664.84" y="188" width="15.65" height="1" fill="#4a4a4a"/>
<rect x="680.18" y="188" width="5.62" height="1" fill="#484848"/>
<rect x="631" y="189" width="19.46" height="1" fill="#262626"/>
<rect x="650.16" y="189" width="8.81" height="1" fill="#2b2b2b"/>
<rect x="658.67" y="189" width="9.58" height="1" fill="#060606"/>
<rect x="667.95" y="189" width="16.85" height="1" fill="#292929"/>
<rect x="684.5" y="189" width="1.3" height="1" fill="#2a2a2a"/>
<rect x="631" y="190" width="12.67" height="1" fill="#515151"/>
<rect x="643.37" y="190" width="10.78" height="1" fill="#434343"/>
<rect x="653.86" y="190" width="10.38" height="1" fill="#686868"/>
<rect x="663.94" y="190" width="21.86" height="1" fill="#484848"/>
<rect x="631" y="191" width="22.11" height="1" fill="#0f0f0f"/>
<rect x="652.81" y="191" width="13.98" height="1" fill="#000000"/>
<rect x="666.5" y="191" width="16.62" height="1" fill="#212121"/>
<rect x="682.81" y="191" width="2.99" height="1" fill="#080808"/>
<rect x="631" y="192" width="9.08" height="1" fill="#2c2c2c"/>
<rect x="639.78" y="192" width="8.76" height="1" fill="#121212"/>
<rect x="648.24" y="192" width="20.04" height="1" fill="#000000"/>
<rect x="667.98" y="192" width="17.82" height="1" fill="#2e2e2e"/>
<rect x="631" y="193" width="19.33" height="1" fill="#575757"/>
<rect x="650.03" y="193" width="14.38" height="1" fill="#595959"/>
<rect x="664.12" y="193" width="20.13" height="1" fill="#626262"/>
<rect x="683.94" y="193" width="1.86" height="1" fill="#8d8d8d"/>
<rect x="631" y="194" width="21.96" height="1" fill="#525252"/>
<rect x="652.66" y="194" width="15.13" height="1" fill="#636363"/>
<rect x="667.5" y="194" width="15.01" height="1" fill="#484848"/>
<rect x="682.2" y="194" width="3.6" height="1" fill="#3f3f3f"/>
<rect x="631" y="195" width="13.58" height="1" fill="#343434"/>
<rect x="644.28" y="195" width="21.74" height="1" fill="#1e1e1e"/>
<rect x="665.72" y="195" width="15.29" height="1" fill="#0c0c0c"/>
<rect x="680.71" y="195" width="5.09" height="1" fill="#080808"/>
<rect x="631" y="196" width="20.44" height="1" fill="#7e7e7e"/>
<rect x="651.14" y="196" width="19.3" height="1" fill="#979797"/>
<rect x="670.15" y="196" width="15.65" height="1" fill="#909090"/>
<rect x="631" y="197" width="13.39" height="1" fill="#646464"/>
<rect x="644.09" y="197" width="12.23" height="1" fill="#575757"/>
<rect x="656.02" y="197" width="19.08" height="1" fill="#636363"/>
<rect x="674.8" y="197" width="11" height="1" fill="#737373"/>
<rect x="631" y="198" width="17.4" height="1" fill="#1e1e1e"/>
<rect x="648.1" y="198" width="8.46" height="1" fill="#1c1c1c"/>
<rect x="656.26" y="198" width="11.81" height="1" fill="#232323"/>
<rect x="667.77" y="198" width="14.78" height="1" fill="#2c2c2c"/>
<rect x="682.25" y="198" width="3.55" height="1" fill="#2b2b2b"/>
<rect x="631" y="199" width="17.32" height="1" fill="#787878"/>
<rect x="648.02" y="199" width="19.89" height="1" fill="#606060"/>
<rect x="667.61" y="199" width="18.19" height="1" fill="#808080"/>
<rect x="631" y="200" width="21.97" height="1" fill="#787878"/>
<rect x="652.67" y="200" width="15.55" height="1" fill="#5d5d5d"/>
<rect x="667.92" y="200" width="10.63" height="1" fill="#707070"/>
<rect x="678.25" y="200" width="7.55" height="1" fill="#5a5a5a"/>
<rect x="631" y="201" width="17.98" height="1" fill="#292929"/>
<rect x="648.68" y="201" width="18.52" height="1" fill="#070707"/>
<rect x="666.9" y="201" width="18.9" height="1" fill="#212121"/>
<rect x="631" y="202" width="14.19" height="1" fill="#969696"/>
<rect x="644.89" y="202" width="19.15" height="1" fill="#979797"/>
<rect x="663.74" y="202" width="18.39" height="1" fill="#727272"/>
<rect x="681.82" y="202" width="3.98" height="1" fill="#8b8b8b"/>
<rect x="631" y="203" width="11.37" height="1" fill="#6d6d6d"/>
<rect x="642.07" y="203" width="17.13" height="1" fill="#454545"/>
<rect x="658.9" y="203" width="14.9" height="1" fill="#515151"/>
<rect x="673.5" y="203" width="9.06" height="1" fill="#4b4b4b"/>
<rect x="682.26" y="203" width="3.54" height="1" fill="#4e4e4e"/>
<rect x="631" y="204" width="11.01" height="1" fill="#020202"/>
<rect x="641.71" y="204" width="14.81" height="1" fill="#171717"/>
<rect x="656.22" y="204" width="16.87" height="1" fill="#242424"/>
<rect x="672.79" y="204" width="11.63" height="1" fill="#373737"/>
<rect x="684.12" y="204" width="1.68" height="1" fill="#181818"/>
<rect x="631" y="205" width="14.04" height="1" fill="#5d5d5d"/>
<rect x="644.74" y="205" width="19.94" height="1" fill="#6c6c6c"/>
<rect x="664.38" y="205" width="8.8" height="1" fill="#7b7b7b"/>
<rect x="672.88" y="205" width="9.63" height="1" fill="#777777"/>
<rect x="682.21" y="205" width="3.59" height="1" fill="#797979"/>
<rect x="631" y="206" width="19.76" height="1" fill="#7c7c7c"/>
<rect x="650.46" y="206" width="19.68" height="1" fill="#8a8a8a"/>
<rect x="669.84" y="206" width="13.47" height="1" fill="#6b6b6b"/>
<rect x="683.01" y="206" width="2.79" height="1" fill="#858585"/>
<rect x="631" y="207" width="21.7" height="1" fill="#3d3d3d"/>
<rect x="652.4" y="207" width="16.82" height="1" fill="#171717"/>
<rect x="668.92" y="207" width="16.88" height="1" fill="#020202"/>
<rect x="631" y="208" width="16.22" height="1" fill="#737373"/>
<rect x="646.92" y="208" width="10.27" height="1" fill="#747474"/>
<rect x="656.89" y="208" width="20.78" height="1" fill="#646464"/>
<rect x="677.37" y="208" width="8.43" height="1" fill="#5b5b5b"/>
<rect x="631" y="209" width="21.91" height="1" fill="#4d4d4d"/>
<rect x="652.61" y="209" width="21.76" height="1" fill="#6e6e6e"/>
<rect x="674.07" y="209" width="11.73" height="1" fill="#464646"/>
<rect x="631" y="210" width="22.03" height="1" fill="#222222"/>
<rect x="652.73" y="210" width="14.12" height="1" fill="#171717"/>
<rect x="666.55" y="210" width="19.25" height="1" fill="#222222"/>
<rect x="631" y="211" width="14.98" height="1" fill="#6b6b6b"/>
<rect x="645.68" y="211" width="17" height="1" fill="#7e7e7e"/>
<rect x="662.38" y="211" width="12.4" height="1" fill="#939393"/>
<rect x="674.48" y="211" width="11.32" height="1" fill="#646464"/>
<rect x="631" y="212" width="12.13" height="1" fill="#878787"/>
<rect x="642.83" y="212" width="19.25" height="1" fill="#5d5d5d"/>
<rect x="661.78" y="212" width="12.05" height="1" fill="#575757"/>
<rect x="673.53" y="212" width="12.27" height="1" fill="#606060"/>
<rect x="631" y="213" width="16.81" height="1" fill="#222222"/>
<rect x="647.51" y="213" width="17.33" height="1" fill="#2a2a2a"/>
<rect x="664.54" y="213" width="18.71" height="1" fill="#0c0c0c"/>
<rect x="682.95" y="213" width="2.85" height="1" fill="#181818"/>
<rect x="631" y="214" width="13.01" height="1" fill="#909090"/>
<rect x="643.71" y="214" width="15.72" height="1" fill="#9a9a9a"/>
<rect x="659.12" y="214" width="13.35" height="1" fill="#acacac"/>
<rect x="672.18" y="214" width="13.62" height="1" fill="#808080"/>
<rect x="631" y="215" width="14.68" height="1" fill="#757575"/>
<rect x="645.38" y="215" width="20.73" height="1" fill="#5e5e5e"/>
<rect x="665.81" y="215" width="8.5" height="1" fill="#6c6c6c"/>
<rect x="674.01" y="215" width="11.79" height="1" fill="#606060"/>
<rect x="631" y="216" width="18.21" height="1" fill="#2d2d2d"/>
<rect x="648.91" y="216" width="15.05" height="1" fill="#3e3e3e"/>
<rect x="663.66" y="216" width="13.7" height="1" fill="#1e1e1e"/>
<rect x="677.06" y="216" width="8.74" height="1" fill="#121212"/>
<rect x="631" y="217" width="19.92" height="1" fill="#707070"/>
<rect x="650.62" y="217" width="20.01" height="1" fill="#979797"/>
<rect x="670.33" y="217" width="14.36" height="1" fill="#7e7e7e"/>
<rect x="684.39" y="217" width="1.41" height="1" fill="#a4a4a4"/>
<rect x="631" y="218" width="15" height="1" fill="#595959"/>
<rect x="645.7" y="218" width="15.27" height="1" fill="#4b4b4b"/>
<rect x="660.67" y="218" width="10.45" height="1" fill="#5b5b5b"/>
<rect x="670.81" y="218" width="14.99" height="1" fill="#3b3b3b"/>
<rect x="631" y="219" width="11.52" height="1" fill="#393939"/>
<rect x="642.22" y="219" width="19.38" height="1" fill="#303030"/>
<rect x="661.3" y="219" width="8.66" height="1" fill="#333333"/>
<rect x="669.66" y="219" width="16.14" height="1" fill="#444444"/>
<rect x="631" y="220" width="8.98" height="1" fill="#c5c5c5"/>
<rect x="639.68" y="220" width="11.37" height="1" fill="#b9b9b9"/>
<rect x="650.75" y="220" width="21.63" height="1" fill="#bebebe"/>
<rect x="672.09" y="220" width="10.18" height="1" fill="#a4a4a4"/>
<rect x="681.97" y="220" width="3.83" height="1" fill="#9b9b9b"/>
<rect x="631" y="221" width="14.1" height="1" fill="#666666"/>
<rect x="644.8" y="221" width="17.01" height="1" fill="#5f5f5f"/>
<rect x="661.51" y="221" width="9.82" height="1" fill="#737373"/>
<rect x="671.02" y="221" width="9.31" height="1" fill="#606060"/>
<rect x="680.03" y="221" width="5.77" height="1" fill="#898989"/>
<rect x="631" y="222" width="20.6" height="1" fill="#0f0f0f"/>
<rect x="651.3" y="222" width="14.34" height="1" fill="#1a1a1a"/>
<rect x="665.34" y="222" width="16.7" height="1" fill="#252525"/>
<rect x="681.74" y="222" width="4.06" height="1" fill="#1e1e1e"/>
<rect x="631" y="223" width="18.06" height="1" fill="#626262"/>
<rect x="648.76" y="223" width="17.14" height="1" fill="#777777"/>
<rect x="665.6" y="223" width="20.2" height="1" fill="#7b7b7b"/>
<rect x="631" y="224" width="11.99" height="1" fill="#7e7e7e"/>
<rect x="642.69" y="224" width="11.86" height="1" fill="#8a8a8a"/>
<rect x="654.24" y="224" width="15.54" height="1" fill="#656565"/>
<rect x="669.48" y="224" width="11.58" height="1" fill="#737373"/>
<rect x="680.76" y="224" width="5.04" height="1" fill="#686868"/>
<rect x="631" y="225" width="18.29" height="1" fill="#2f2f2f"/>
<rect x="648.99" y="225" width="9.49" height="1" fill="#303030"/>
<rect x="658.18" y="225" width="9.58" height="1" fill="#0f0f0f"/>
<rect x="667.46" y="225" width="16.62" height="1" fill="#161616"/>
<rect x="683.77" y="225" width="2.03" height="1" fill="#242424"/>
<rect x="631" y="226" width="19.45" height="1" fill="#717171"/>
<rect x="650.15" y="226" width="18.45" height="1" fill="#727272"/>
<rect x="668.3" y="226" width="10.41" height="1" fill="#a9a9a9"/>
<rect x="678.41" y="226" width="7.39" height="1" fill="#7d7d7d"/>
<rect x="631" y="227" width="21.92" height="1" fill="#5d5d5d"/>
<rect x="652.62" y="227" width="19.79" height="1" fill="#3d3d3d"/>
<rect x="672.11" y="227" width="13.69" height="1" fill="#4a4a4a"/>
<rect x="631" y="228" width="11.59" height="1" fill="#1b1b1b"/>
<rect x="642.29" y="228" width="16.89" height="1" fill="#1c1c1c"/>
<rect x="658.88" y="228" width="13.7" height="1" fill="#0f0f0f"/>
<rect x="672.28" y="228" width="13.52" height="1" fill="#2e2e2e"/>
<rect x="631" y="229" width="14.37" height="1" fill="#cccccc"/>
<rect x="645.07" y="229" width="15.54" height="1" fill="#bcbcbc"/>
<rect x="660.31" y="229" width="16.33" height="1" fill="#c5c5c5"/>
<rect x="676.34" y="229" width="9.46" height="1" fill="#9d9d9d"/>
<rect x="631" y="230" width="11.13" height="1" fill="#2d2d2d"/>
<rect x="641.83" y="230" width="20.75" height="1" fill="#484848"/>
<rect x="662.28" y="230" width="18.94" height="1" fill="#2b2b2b"/>
<rect x="680.93" y="230" width="4.87" height="1" fill="#616161"/>
<rect x="631" y="231" width="16.97" height="1" fill="#1f1f1f"/>
<rect x="647.67" y="231" width="14.82" height="1" fill="#0b0b0b"/>
<rect x="662.19" y="231" width="10.47" height="1" fill="#0f0f0f"/>
<rect x="672.36" y="231" width="13.44" height="1" fill="#1d1d1d"/>
<rect x="631" y="232" width="10.43" height="1" fill="#aaaaaa"/>
<rect x="641.13" y="232" width="12.18" height="1" fill="#a4a4a4"/>
<rect x="653.01" y="232" width="12.32" height="1" fill="#a8a8a8"/>
<rect x="665.03" y="232" width="15.05" height="1" fill="#9c9c9c"/>
<rect x="679.78" y="232" width="6.02" height="1" fill="#b1b1b1"/>
<rect x="631" y="233" width="17.93" height="1" fill="#949494"/>
<rect x="648.63" y="233" width="14.9" height="1" fill="#a5a5a5"/>
<rect x="663.23" y="233" width="9.95" height="1" fill="#949494"/>
<rect x="672.88" y="233" width="12.38" height="1" fill="#959595"/>
<rect x="684.96" y="233" width="0.84" height="1" fill="#757575"/>
<rect x="631" y="234" width="11.11" height="1" fill="#050505"/>
<rect x="641.81" y="234" width="11.53" height="1" fill="#080808"/>
<rect x="653.04" y="234" width="13.91" height="1" fill="#3f3f3f"/>
<rect x="666.66" y="234" width="13.4" height="1" fill="#171717"/>
<rect x="679.76" y="234" width="6.04" height="1" fill="#151515"/>
<rect x="631" y="235" width="18.35" height="1" fill="#919191"/>
<rect x="649.05" y="235" width="11.67" height="1" fill="#b0b0b0"/>
<rect x="660.42" y="235" width="21.47" height="1" fill="#afafaf"/>
<rect x="681.59" y="235" width="4.21" height="1" fill="#c3c3c3"/>
<rect x="631" y="236" width="9.15" height="1" fill="#4e4e4e"/>
<rect x="639.85" y="236" width="14.04" height="1" fill="#212121"/>
<rect x="653.59" y="236" width="15.98" height="1" fill="#5b5b5b"/>
<rect x="669.27" y="236" width="15.57" height="1" fill="#333333"/>
<rect x="684.54" y="236" width="1.26" height="1" fill="#222222"/>
<rect x="631" y="237" width="20.88" height="1" fill="#202020"/>
<rect x="651.58" y="237" width="21.4" height="1" fill="#050505"/>
<rect x="672.68" y="237" width="11.71" height="1" fill="#050505"/>
<rect x="684.09" y="237" width="1.71" height="1" fill="#050505"/>
<rect x="631" y="238" width="14" height="1" fill="#696969"/>
<rect x="644.7" y="238" width="9.02" height="1" fill="#585858"/>
<rect x="653.42" y="238" width="21.9" height="1" fill="#616161"/>
<rect x="675.03" y="238" width="10.77" height="1" fill="#6f6f6f"/>
<rect x="631" y="239" width="9.48" height="1" fill="#525252"/>
<rect x="640.18" y="239" width="9.81" height="1" fill="#606060"/>
<rect x="649.69" y="239" width="21.2" height="1" fill="#646464"/>
<rect x="670.59" y="239" width="15.21" height="1" fill="#4c4c4c"/>
<rect x="631" y="240" width="8.54" height="1" fill="#212121"/>
<rect x="639.24" y="240" width="15.11" height="1" fill="#222222"/>
<rect x="654.06" y="240" width="13.57" height="1" fill="#262626"/>
<rect x="667.33" y="240" width="18.46" height="1" fill="#373737"/>
<rect x="685.49" y="240" width="0.31" height="1" fill="#1b1b1b"/>
<rect x="631" y="241" width="11.44" height="1" fill="#888888"/>
<rect x="642.14" y="241" width="12.66" height="1" fill="#878787"/>
<rect x="654.5" y="241" width="19.11" height="1" fill="#b3b3b3"/>
<rect x="673.31" y="241" width="12.49" height="1" fill="#898989"/>
<rect x="631" y="242" width="11.73" height="1" fill="#1a1a1a"/>
<rect x="642.43" y="242" width="14.3" height="1" fill="#383838"/>
<rect x="656.43" y="242" width="11.74" height="1" fill="#181818"/>
<rect x="667.86" y="242" width="17.94" height="1" fill="#181818"/>
<rect x="631" y="243" width="11.1" height="1" fill="#0e0e0e"/>
<rect x="641.8" y="243" width="13.53" height="1" fill="#030303"/>
<rect x="655.03" y="243" width="14.19" height="1" fill="#101010"/>
<rect x="668.92" y="243" width="16.88" height="1" fill="#1f1f1f"/>
<rect x="631" y="244" width="17.46" height="1" fill="#adadad"/>
<rect x="648.16" y="244" width="16.35" height="1" fill="#9a9a9a"/>
<rect x="664.2" y="244" width="19.74" height="1" fill="#a7a7a7"/>
<rect x="683.64" y="244" width="2.16" height="1" fill="#ababab"/>
<rect x="631" y="245" width="12.05" height="1" fill="#6d6d6d"/>
<rect x="642.75" y="245" width="13.65" height="1" fill="#434343"/>
<rect x="656.1" y="245" width="9.22" height="1" fill="#454545"/>
<rect x="665.02" y="245" width="11.98" height="1" fill="#646464"/>
<rect x="676.7" y="245" width="9.1" height="1" fill="#3f3f3f"/>
<rect x="631" y="246" width="18.99" height="1" fill="#1c1c1c"/>
<rect x="649.69" y="246" width="8.68" height="1" fill="#000000"/>
<rect x="658.08" y="246" width="10.12" height="1" fill="#101010"/>
<rect x="667.9" y="246" width="17.9" height="1" fill="#343434"/>
<rect x="631" y="247" width="11.54" height="1" fill="#767676"/>
<rect x="642.24" y="247" width="13.37" height="1" fill="#707070"/>
<rect x="655.31" y="247" width="8.47" height="1" fill="#808080"/>
<rect x="663.48" y="247" width="19.88" height="1" fill="#888888"/>
<rect x="683.06" y="247" width="2.74" height="1" fill="#7c7c7c"/>
<rect x="631" y="248" width="18.23" height="1" fill="#242424"/>
<rect x="648.93" y="248" width="21.44" height="1" fill="#393939"/>
<rect x="670.07" y="248" width="9.95" height="1" fill="#1c1c1c"/>
<rect x="679.73" y="248" width="6.07" height="1" fill="#252525"/>
<rect x="631" y="249" width="14.38" height="1" fill="#121212"/>
<rect x="645.08" y="249" width="19.05" height="1" fill="#313131"/>
<rect x="663.82" y="249" width="15.76" height="1" fill="#333333"/>
<rect x="679.28" y="249" width="6.52" height="1" fill="#000000"/>
<rect x="631" y="250" width="14.17" height="1" fill="#676767"/>
<rect x="644.87" y="250" width="21.99" height="1" fill="#666666"/>
<rect x="666.56" y="250" width="16.38" height="1" fill="#818181"/>
<rect x="682.64" y="250" width="3.16" height="1" fill="#7c7c7c"/>
<rect x="631" y="251" width="12.18" height="1" fill="#0e0e0e"/>
<rect x="642.88" y="251" width="16.17" height="1" fill="#181818"/>
<rect x="658.75" y="251" width="18.82" height="1" fill="#111111"/>
<rect x="677.27" y="251" width="8.53" height="1" fill="#111111"/>
<rect x="631" y="252" width="22.05" height="1" fill="#282828"/>
<rect x="652.75" y="252" width="20.2" height="1" fill="#1a1a1a"/>
<rect x="672.65" y="252" width="13.15" height="1" fill="#000000"/>
<rect x="631" y="253" width="15.16" height="1" fill="#5d5d5d"/>
<rect x="645.86" y="253" width="10.67" height="1" fill="#616161"/>
<rect x="656.24" y="253" width="18.35" height="1" fill="#929292"/>
<rect x="674.28" y="253" width="11.09" height="1" fill="#8c8c8c"/>
<rect x="685.07" y="253" width="0.73" height="1" fill="#858585"/>
<rect x="631" y="254" width="17.02" height="1" fill="#5a5a5a"/>
<rect x="647.72" y="254" width="13.57" height="1" fill="#2a2a2a"/>
<rect x="660.99" y="254" width="15.46" height="1" fill="#4d4d4d"/>
<rect x="676.16" y="254" width="9.64" height="1" fill="#414141"/>
<rect x="631" y="255" width="12.74" height="1" fill="#000000"/>
<rect x="643.44" y="255" width="12.67" height="1" fill="#080808"/>
<rect x="655.81" y="255" width="14.97" height="1" fill="#1c1c1c"/>
<rect x="670.48" y="255" width="13.89" height="1" fill="#2d2d2d"/>
<rect x="684.06" y="255" width="1.74" height="1" fill="#2a2a2a"/>
<rect x="631" y="256" width="17.68" height="1" fill="#656565"/>
<rect x="648.38" y="256" width="19.48" height="1" fill="#5b5b5b"/>
<rect x="667.56" y="256" width="16.61" height="1" fill="#6e6e6e"/>
<rect x="683.87" y="256" width="1.93" height="1" fill="#565656"/>
<rect x="631" y="257" width="9.52" height="1" fill="#000000"/>
<rect x="640.22" y="257" width="16.43" height="1" fill="#111111"/>
<rect x="656.35" y="257" width="18.3" height="1" fill="#000000"/>
<rect x="674.35" y="257" width="11.45" height="1" fill="#000000"/>
<rect x="631" y="258" width="18.32" height="1" fill="#000000"/>
<rect x="649.02" y="258" width="18.85" height="1" fill="#171717"/>
<rect x="667.57" y="258" width="18.23" height="1" fill="#252525"/>
<rect x="631" y="259" width="20.04" height="1" fill="#676767"/>
<rect x="650.74" y="259" width="16.85" height="1" fill="#474747"/>
<rect x="667.29" y="259" width="15.53" height="1" fill="#717171"/>
<rect x="682.52" y="259" width="3.28" height="1" fill="#767676"/>
<rect x="631" y="260" width="13.81" height="1" fill="#000000"/>
<rect x="644.51" y="260" width="13.76" height="1" fill="#080808"/>
<rect x="657.97" y="260" width="17.44" height="1" fill="#343434"/>
<rect x="675.11" y="260" width="10.69" height="1" fill="#222222"/>
<rect x="631" y="261" width="13.71" height="1" fill="#000000"/>
<rect x="644.41" y="261" width="17.94" height="1" fill="#0d0d0d"/>
<rect x="662.06" y="261" width="18.31" height="1" fill="#020202"/>
<rect x="680.07" y="261" width="5.73" height="1" fill="#000000"/>
<rect x="631" y="262" width="12.05" height="1" fill="#353535"/>
<rect x="642.75" y="262" width="20.86" height="1" fill="#191919"/>
<rect x="663.31" y="262" width="17.16" height="1" fill="#3e3e3e"/>
<rect x="680.17" y="262" width="5.63" height="1" fill="#131313"/>
<rect x="631" y="263" width="19.92" height="1" fill="#2c2c2c"/>
<rect x="650.62" y="263" width="18.49" height="1" fill="#0f0f0f"/>
<rect x="668.82" y="263" width="14.26" height="1" fill="#161616"/>
<rect x="682.77" y="263" width="3.03" height="1" fill="#080808"/>
<rect x="631" y="264" width="12.23" height="1" fill="#0e0e0e"/>
<rect x="642.93" y="264" width="21.83" height="1" fill="#000000"/>
<rect x="664.46" y="264" width="8.73" height="1" fill="#000000"/>
<rect x="672.89" y="264" width="12.91" height="1" fill="#0e0e0e"/>
<line x1="631" y1="180" x2="685.5" y2="180" stroke="#111" stroke-width="1.2"/>
<line x1="631" y1="263.7" x2="685.5" y2="263.7" stroke="#111" stroke-width="1.2"/>
<line x1="685.5" y1="179.5" x2="685.5" y2="264.2" stroke="#111" stroke-width="1"/>
<path d="M685.5 179.5 L699.5 189.5 L699.5 254.2 L685.5 264.2" stroke="#1a1a1a" stroke-width="1" fill="none"/>
<path d="M708.1 222.5 L726.3 215.6 L723 222.3 L726.3 229.1 Z" stroke="none" stroke-width="0" fill="#666"/>
<rect x="722" y="220.3" width="13.3" height="3.8" rx="0" stroke="#1a1a1a" stroke-width="0" fill="#666"/>
<text x="755.2" y="223.7" font-family="Liberation Sans" font-size="12" font-weight="normal" fill="#1e1e2a" text-anchor="middle" textLength="68.6" lengthAdjust="spacingAndGlyphs" transform="rotate(90 755.2 223.7)" stroke="#1e1e2a" stroke-width="0.3">Emergency</text>
<text x="739.9" y="226.5" font-family="Liberation Sans" font-size="12" font-weight="normal" fill="#1e1e2a" text-anchor="middle" textLength="97" lengthAdjust="spacingAndGlyphs" transform="rotate(90 739.9 226.5)" stroke="#1e1e2a" stroke-width="0.3">manual override</text>
<line x1="35.6" y1="365.5" x2="166" y2="365.5" stroke="#1a1a1a" stroke-width="1"/>
<line x1="35.6" y1="590.5" x2="166" y2="590.5" stroke="#1a1a1a" stroke-width="1"/>
<line x1="40.5" y1="365.4" x2="40.5" y2="590.5" stroke="#1a1a1a" stroke-width="1"/>
<path d="M40.5 365.4 L37.9 375.4 L43.1 375.4 Z" fill="#000"/>
<path d="M40.5 590.5 L37.9 580.5 L43.1 580.5 Z" fill="#000"/>
<line x1="62.2" y1="396.5" x2="231" y2="396.5" stroke="#1a1a1a" stroke-width="1"/>
<line x1="59" y1="558.5" x2="231" y2="558.5" stroke="#1a1a1a" stroke-width="1"/>
<line x1="68.5" y1="396.5" x2="68.5" y2="558.2" stroke="#1a1a1a" stroke-width="1"/>
<path d="M68.5 396.5 L65.9 406.5 L71.1 406.5 Z" fill="#000"/>
<path d="M68.5 558.2 L65.9 548.2 L71.1 548.2 Z" fill="#000"/>
<line x1="90.6" y1="475.5" x2="150" y2="475.5" stroke="#1a1a1a" stroke-width="1"/>
<line x1="96.5" y1="475.6" x2="96.5" y2="558.2" stroke="#1a1a1a" stroke-width="1"/>
<path d="M96.5 475.6 L93.9 485.6 L99.1 485.6 Z" fill="#000"/>
<path d="M96.5 558.2 L93.9 548.2 L99.1 548.2 Z" fill="#000"/>
<line x1="68.5" y1="590.5" x2="68.5" y2="629.6" stroke="#1a1a1a" stroke-width="1"/>
<path d="M68.3 590.5 L65.7 600.5 L70.9 600.5 Z" fill="#000"/>
<text x="38.1" y="471.2" font-family="Liberation Sans" font-size="12" font-weight="normal" fill="#1e1e2a" text-anchor="middle" textLength="27.26" lengthAdjust="spacingAndGlyphs" transform="rotate(-90 38.1 471.2)" stroke="#1e1e2a" stroke-width="0.3">88.5</text>
<text x="66.4" y="473.7" font-family="Liberation Sans" font-size="12" font-weight="normal" fill="#1e1e2a" text-anchor="middle" textLength="15.26" lengthAdjust="spacingAndGlyphs" transform="rotate(-90 66.4 473.7)" stroke="#1e1e2a" stroke-width="0.3">65</text>
<text x="94.4" y="516.2" font-family="Liberation Sans" font-size="12" font-weight="normal" fill="#1e1e2a" text-anchor="middle" textLength="27.26" lengthAdjust="spacingAndGlyphs" transform="rotate(-90 94.4 516.2)" stroke="#1e1e2a" stroke-width="0.3">32.5</text>
<text x="66.2" y="615.5" font-family="Liberation Sans" font-size="12" font-weight="normal" fill="#1e1e2a" text-anchor="middle" textLength="27.26" lengthAdjust="spacingAndGlyphs" transform="rotate(-90 66.2 615.5)" stroke="#1e1e2a" stroke-width="0.3">11.8</text>
<line x1="136.5" y1="322.8" x2="136.5" y2="370.5" stroke="#1a1a1a" stroke-width="1"/>
<line x1="279.5" y1="322.8" x2="279.5" y2="430.6" stroke="#1a1a1a" stroke-width="1"/>
<line x1="136.6" y1="328.5" x2="279.4" y2="328.5" stroke="#1a1a1a" stroke-width="1"/>
<path d="M136.6 328.5 L146.6 325.9 L146.6 331.1 Z" fill="#000"/>
<path d="M279.4 328.5 L269.4 325.9 L269.4 331.1 Z" fill="#000"/>
<text x="210.7" y="326.6" font-family="Liberation Sans" font-size="12" font-weight="normal" fill="#1e1e2a" text-anchor="middle" textLength="27.26" lengthAdjust="spacingAndGlyphs" stroke="#1e1e2a" stroke-width="0.3">56.2</text>
<line x1="117.5" y1="525" x2="117.5" y2="710" stroke="#1a1a1a" stroke-width="1"/>
<line x1="135.5" y1="545" x2="135.5" y2="676.4" stroke="#1a1a1a" stroke-width="1"/>
<line x1="224.5" y1="603" x2="224.5" y2="641.5" stroke="#1a1a1a" stroke-width="1"/>
<line x1="279.5" y1="535" x2="279.5" y2="641.6" stroke="#1a1a1a" stroke-width="1"/>
<line x1="421.5" y1="567" x2="421.5" y2="675.5" stroke="#1a1a1a" stroke-width="1"/>
<line x1="700.5" y1="522.5" x2="700.5" y2="708.5" stroke="#1a1a1a" stroke-width="1"/>
<line x1="135.6" y1="636.5" x2="224.6" y2="636.5" stroke="#1a1a1a" stroke-width="1"/>
<path d="M135.6 636.5 L145.6 633.9 L145.6 639.1 Z" fill="#000"/>
<path d="M224.6 636.5 L214.6 633.9 L214.6 639.1 Z" fill="#000"/>
<line x1="224.6" y1="636.5" x2="279.5" y2="636.5" stroke="#1a1a1a" stroke-width="1"/>
<path d="M224.6 636.5 L234.6 633.9 L234.6 639.1 Z" fill="#000"/>
<path d="M279.5 636.5 L269.5 633.9 L269.5 639.1 Z" fill="#000"/>
<text x="180.9" y="635" font-family="Liberation Sans" font-size="12" font-weight="normal" fill="#1e1e2a" text-anchor="middle" textLength="27.26" lengthAdjust="spacingAndGlyphs" stroke="#1e1e2a" stroke-width="0.3">34.7</text>
<text x="252.8" y="635" font-family="Liberation Sans" font-size="12" font-weight="normal" fill="#1e1e2a" text-anchor="middle" textLength="15.26" lengthAdjust="spacingAndGlyphs" stroke="#1e1e2a" stroke-width="0.3">43</text>
<line x1="73" y1="670.5" x2="117" y2="670.5" stroke="#1a1a1a" stroke-width="1"/>
<path d="M117 670.6 L107 668 L107 673.2 Z" fill="#000"/>
<line x1="117" y1="670.5" x2="135.6" y2="670.5" stroke="#1a1a1a" stroke-width="1"/>
<line x1="135.6" y1="670.5" x2="421.6" y2="670.5" stroke="#1a1a1a" stroke-width="1"/>
<path d="M135.6 670.5 L145.6 667.9 L145.6 673.1 Z" fill="#000"/>
<path d="M421.6 670.5 L411.6 667.9 L411.6 673.1 Z" fill="#000"/>
<line x1="421.6" y1="670.5" x2="700.5" y2="670.5" stroke="#1a1a1a" stroke-width="1"/>
<path d="M421.6 670.5 L431.6 667.9 L431.6 673.1 Z" fill="#000"/>
<path d="M700.5 670.5 L690.5 667.9 L690.5 673.1 Z" fill="#000"/>
<text x="89" y="668.4" font-family="Liberation Sans" font-size="12" font-weight="normal" fill="#1e1e2a" text-anchor="middle" textLength="7.63" lengthAdjust="spacingAndGlyphs" stroke="#1e1e2a" stroke-width="0.3">7</text>
<text x="275" y="668.4" font-family="Liberation Sans" font-size="12" font-weight="normal" fill="#1e1e2a" text-anchor="middle" textLength="34.9" lengthAdjust="spacingAndGlyphs" stroke="#1e1e2a" stroke-width="0.3">112.4</text>
<text x="564" y="668.2" font-family="Liberation Sans" font-size="12" font-weight="normal" fill="#1e1e2a" text-anchor="middle" textLength="22.9" lengthAdjust="spacingAndGlyphs" stroke="#1e1e2a" stroke-width="0.3">109</text>
<line x1="117" y1="704.5" x2="700.5" y2="704.5" stroke="#1a1a1a" stroke-width="1"/>
<path d="M117 704.5 L127 701.9 L127 707.1 Z" fill="#000"/>
<path d="M700.5 704.5 L690.5 701.9 L690.5 707.1 Z" fill="#000"/>
<text x="417" y="702" font-family="Liberation Sans" font-size="12" font-weight="normal" fill="#1e1e2a" text-anchor="middle" textLength="34.9" lengthAdjust="spacingAndGlyphs" stroke="#1e1e2a" stroke-width="0.3">228.4</text>
<line x1="300" y1="569.7" x2="438.8" y2="612.5" stroke="#1a1a1a" stroke-width="1"/>
<path d="M291.3 566.9 L304.51 574.96 L306.75 567.7 Z" fill="#000"/>
<line x1="438.8" y1="612.5" x2="511.8" y2="612.5" stroke="#1a1a1a" stroke-width="1"/>
<text x="476.6" y="608.7" font-family="Liberation Sans" font-size="12" font-weight="normal" fill="#1e1e2a" text-anchor="middle" textLength="33.7" lengthAdjust="spacingAndGlyphs" stroke="#1e1e2a" stroke-width="0.3">Ø 8.3</text>
<text x="477" y="625.3" font-family="Liberation Sans" font-size="12" font-weight="normal" fill="#1e1e2a" text-anchor="middle" textLength="61.5" lengthAdjust="spacingAndGlyphs" stroke="#1e1e2a" stroke-width="0.3">n. 2 holes</text>
<text x="240.2" y="356.8" font-family="Liberation Sans" font-size="18.5" font-weight="bold" fill="#8e1416" text-anchor="middle" stroke="#8e1416" stroke-width="0.7" stroke-linejoin="round">C</text>
<text x="353.5" y="356.8" font-family="Liberation Sans" font-size="18.5" font-weight="bold" fill="#8e1416" text-anchor="middle" stroke="#8e1416" stroke-width="0.7" stroke-linejoin="round">D</text>
<text x="224.4" y="480.9" font-family="Liberation Sans" font-size="18.5" font-weight="bold" fill="#8e1416" text-anchor="middle" stroke="#8e1416" stroke-width="0.7" stroke-linejoin="round">A</text>
<text x="334.3" y="480.9" font-family="Liberation Sans" font-size="18.5" font-weight="bold" fill="#8e1416" text-anchor="middle" stroke="#8e1416" stroke-width="0.7" stroke-linejoin="round">B</text>
<text x="241.7" y="609.6" font-family="Liberation Sans" font-size="18.5" font-weight="bold" fill="#8e1416" text-anchor="middle" stroke="#8e1416" stroke-width="0.7" stroke-linejoin="round">E</text>
<text x="351.5" y="609.6" font-family="Liberation Sans" font-size="18.5" font-weight="bold" fill="#8e1416" text-anchor="middle" stroke="#8e1416" stroke-width="0.7" stroke-linejoin="round">F</text>
<line x1="480" y1="394.5" x2="761.3" y2="394.5" stroke="#1a1a1a" stroke-width="1"/>
<line x1="480" y1="559.5" x2="761.3" y2="559.5" stroke="#1a1a1a" stroke-width="1"/>
<line x1="755.5" y1="394.6" x2="755.5" y2="559.7" stroke="#1a1a1a" stroke-width="1"/>
<path d="M755.5 394.6 L752.9 404.6 L758.1 404.6 Z" fill="#000"/>
<path d="M755.5 559.7 L752.9 549.7 L758.1 549.7 Z" fill="#000"/>
<text x="752.2" y="475" font-family="Liberation Sans" font-size="12" font-weight="normal" fill="#1a1a2a" text-anchor="middle" textLength="15" lengthAdjust="spacingAndGlyphs" transform="rotate(-90 752.2 475)" stroke="#1a1a2a" stroke-width="0.3">64</text>
<line x1="140" y1="475.5" x2="146" y2="475.5" stroke="#1a1a1a" stroke-width="1"/>
<line x1="167" y1="475.5" x2="172.4" y2="475.5" stroke="#1a1a1a" stroke-width="1"/>
<line x1="185.5" y1="475.5" x2="209.1" y2="475.5" stroke="#1a1a1a" stroke-width="1"/>
<line x1="247" y1="475.5" x2="256.4" y2="475.5" stroke="#1a1a1a" stroke-width="1"/>
<line x1="269.5" y1="475.5" x2="321.6" y2="475.5" stroke="#1a1a1a" stroke-width="1"/>
<line x1="354" y1="475.5" x2="396" y2="475.5" stroke="#1a1a1a" stroke-width="1"/>
<line x1="419" y1="475.5" x2="425.6" y2="475.5" stroke="#1a1a1a" stroke-width="1"/>
<line x1="437.7" y1="475.5" x2="492.5" y2="475.5" stroke="#1a1a1a" stroke-width="1"/>
<line x1="505" y1="475.5" x2="511" y2="475.5" stroke="#1a1a1a" stroke-width="1"/>
<line x1="524" y1="475.5" x2="576" y2="475.5" stroke="#1a1a1a" stroke-width="1"/>
<line x1="588.8" y1="475.5" x2="595.2" y2="475.5" stroke="#1a1a1a" stroke-width="1"/>
<line x1="608.8" y1="475.5" x2="626" y2="475.5" stroke="#1a1a1a" stroke-width="1"/>
<line x1="640" y1="475.5" x2="685" y2="475.5" stroke="#333" stroke-width="1"/>
<line x1="688" y1="475.5" x2="730.5" y2="475.5" stroke="#1a1a1a" stroke-width="1"/>
<line x1="225" y1="350" x2="225" y2="410.5" stroke="#222" stroke-width="1"/>
<line x1="225" y1="424" x2="225" y2="430.5" stroke="#222" stroke-width="1"/>
<line x1="225" y1="445.5" x2="225" y2="463" stroke="#222" stroke-width="1"/>
<line x1="225" y1="486" x2="225" y2="504.5" stroke="#222" stroke-width="1"/>
<line x1="225" y1="519.5" x2="225" y2="526.5" stroke="#222" stroke-width="1"/>
<line x1="225" y1="540" x2="225" y2="600.5" stroke="#222" stroke-width="1"/>
<line x1="334.7" y1="350" x2="334.7" y2="410.5" stroke="#222" stroke-width="1"/>
<line x1="334.7" y1="424" x2="334.7" y2="430.5" stroke="#222" stroke-width="1"/>
<line x1="334.7" y1="445.5" x2="334.7" y2="463" stroke="#222" stroke-width="1"/>
<line x1="334.7" y1="486" x2="334.7" y2="504.5" stroke="#222" stroke-width="1"/>
<line x1="334.7" y1="519.5" x2="334.7" y2="526.5" stroke="#222" stroke-width="1"/>
<line x1="334.7" y1="540" x2="334.7" y2="600.5" stroke="#222" stroke-width="1"/>
<line x1="279.4" y1="446.2" x2="279.4" y2="504.8" stroke="#222" stroke-width="1"/>
<line x1="279.4" y1="519.7" x2="279.4" y2="526.7" stroke="#222" stroke-width="1"/>
<line x1="421.5" y1="395.2" x2="421.5" y2="558" stroke="#1a1a1a" stroke-width="1"/>
<line x1="421.7" y1="395.2" x2="610.5" y2="397.8" stroke="#1a1a1a" stroke-width="1"/>
<line x1="421.7" y1="408.3" x2="610.5" y2="409.8" stroke="#1a1a1a" stroke-width="1"/>
<line x1="421.7" y1="558" x2="610.5" y2="555.3" stroke="#1a1a1a" stroke-width="1"/>
<line x1="421.7" y1="546.5" x2="610.5" y2="543.2" stroke="#1a1a1a" stroke-width="1"/>
<path d="M610.5 397.8 L611 397.8 A11.5 11.5 0 0 1 622.5 409.3 L622.5 543.8 A11.5 11.5 0 0 1 611 555.3 L610.5 555.3" stroke="#1a1a1a" stroke-width="1" fill="none"/>
<line x1="610.5" y1="397.8" x2="610.5" y2="555.3" stroke="#1a1a1a" stroke-width="1"/>
<path d="M421.7 431.5 L510.8 431.5 L510.8 521.4" stroke="#1a1a1a" stroke-width="1" fill="none"/>
<path d="M410 439 L491 439 A12.7 12.7 0 0 1 503.7 451.7 L503.7 502.3 A12.7 12.7 0 0 1 491 515 L410 515" stroke="#1a1a1a" stroke-width="1" fill="none"/>
<line x1="421.7" y1="521.5" x2="510.8" y2="521.5" stroke="#1a1a1a" stroke-width="1"/>
<line x1="465.5" y1="415" x2="465.5" y2="445.7" stroke="#1a1a1a" stroke-width="1"/>
<line x1="465.5" y1="463" x2="465.5" y2="468" stroke="#1a1a1a" stroke-width="1"/>
<line x1="465.5" y1="483" x2="465.5" y2="488" stroke="#1a1a1a" stroke-width="1"/>
<line x1="465.5" y1="511" x2="465.5" y2="540.5" stroke="#1a1a1a" stroke-width="1"/>
<line x1="437.7" y1="475.5" x2="492.5" y2="475.5" stroke="#1a1a1a" stroke-width="1"/>
<circle cx="465.2" cy="475.8" r="4.8" stroke="#1a1a1a" stroke-width="1" fill="none"/>
<circle cx="465.2" cy="475.8" r="3" stroke="#1a1a1a" stroke-width="1" fill="none"/>
<rect x="440.5" y="469.3" width="2.8" height="16.2" rx="0" stroke="#1a1a1a" stroke-width="1" fill="none"/>
<path d="M459.8 458.5 L459.8 454.5 L470.6 454.5 L470.6 458.5 M459.8 454.5 L461 456.5 L469.4 456.5 L470.6 454.5" stroke="#1a1a1a" stroke-width="1" fill="none"/>
<path d="M459.8 495.5 L459.8 499.5 L470.6 499.5 L470.6 495.5 M461.5 499.5 L462.5 502 L467.5 502 L468.5 499.5" stroke="#1a1a1a" stroke-width="1" fill="none"/>
<line x1="622.5" y1="434.5" x2="628.5" y2="434.5" stroke="#1a1a1a" stroke-width="1"/>
<line x1="622.5" y1="516.5" x2="628.5" y2="516.5" stroke="#1a1a1a" stroke-width="1"/>
<line x1="628.5" y1="433" x2="628.5" y2="517.7" stroke="#1a1a1a" stroke-width="1"/>
<line x1="630.5" y1="433" x2="630.5" y2="517.7" stroke="#999" stroke-width="1"/>
<rect x="631" y="433" width="17.02" height="1" fill="#161616"/>
<rect x="647.72" y="433" width="19.43" height="1" fill="#222222"/>
<rect x="666.85" y="433" width="18.66" height="1" fill="#212121"/>
<rect x="685.21" y="433" width="0.59" height="1" fill="#050505"/>
<rect x="631" y="434" width="17.39" height="1" fill="#7c7c7c"/>
<rect x="648.09" y="434" width="9.88" height="1" fill="#626262"/>
<rect x="657.67" y="434" width="11.75" height="1" fill="#666666"/>
<rect x="669.12" y="434" width="16.34" height="1" fill="#464646"/>
<rect x="685.16" y="434" width="0.64" height="1" fill="#565656"/>
<rect x="631" y="435" width="19.02" height="1" fill="#1d1d1d"/>
<rect x="649.72" y="435" width="19.46" height="1" fill="#1c1c1c"/>
<rect x="668.88" y="435" width="16.92" height="1" fill="#1b1b1b"/>
<rect x="631" y="436" width="8.32" height="1" fill="#212121"/>
<rect x="639.02" y="436" width="11.23" height="1" fill="#000000"/>
<rect x="649.96" y="436" width="22.05" height="1" fill="#212121"/>
<rect x="671.71" y="436" width="12.35" height="1" fill="#262626"/>
<rect x="683.76" y="436" width="2.04" height="1" fill="#151515"/>
<rect x="631" y="437" width="21.47" height="1" fill="#363636"/>
<rect x="652.17" y="437" width="21.83" height="1" fill="#424242"/>
<rect x="673.71" y="437" width="12.09" height="1" fill="#222222"/>
<rect x="631" y="438" width="10.34" height="1" fill="#000000"/>
<rect x="641.04" y="438" width="12.52" height="1" fill="#080808"/>
<rect x="653.26" y="438" width="8.35" height="1" fill="#0d0d0d"/>
<rect x="661.31" y="438" width="13.03" height="1" fill="#000000"/>
<rect x="674.04" y="438" width="11.76" height="1" fill="#000000"/>
<rect x="631" y="439" width="12.72" height="1" fill="#0b0b0b"/>
<rect x="643.42" y="439" width="18.17" height="1" fill="#000000"/>
<rect x="661.29" y="439" width="21.95" height="1" fill="#000000"/>
<rect x="682.94" y="439" width="2.86" height="1" fill="#222222"/>
<rect x="631" y="440" width="19.33" height="1" fill="#1b1b1b"/>
<rect x="650.03" y="440" width="16.4" height="1" fill="#050505"/>
<rect x="666.13" y="440" width="8.95" height="1" fill="#101010"/>
<rect x="674.78" y="440" width="11.02" height="1" fill="#111111"/>
<rect x="631" y="441" width="21.32" height="1" fill="#545454"/>
<rect x="652.02" y="441" width="13.12" height="1" fill="#303030"/>
<rect x="664.84" y="441" width="15.65" height="1" fill="#4a4a4a"/>
<rect x="680.18" y="441" width="5.62" height="1" fill="#484848"/>
<rect x="631" y="442" width="19.46" height="1" fill="#262626"/>
<rect x="650.16" y="442" width="8.81" height="1" fill="#2b2b2b"/>
<rect x="658.67" y="442" width="9.58" height="1" fill="#060606"/>
<rect x="667.95" y="442" width="16.85" height="1" fill="#292929"/>
<rect x="684.5" y="442" width="1.3" height="1" fill="#2a2a2a"/>
<rect x="631" y="443" width="12.67" height="1" fill="#515151"/>
<rect x="643.37" y="443" width="10.78" height="1" fill="#434343"/>
<rect x="653.86" y="443" width="10.38" height="1" fill="#686868"/>
<rect x="663.94" y="443" width="21.86" height="1" fill="#484848"/>
<rect x="631" y="444" width="22.11" height="1" fill="#0f0f0f"/>
<rect x="652.81" y="444" width="13.98" height="1" fill="#000000"/>
<rect x="666.5" y="444" width="16.62" height="1" fill="#212121"/>
<rect x="682.81" y="444" width="2.99" height="1" fill="#080808"/>
<rect x="631" y="445" width="9.08" height="1" fill="#2c2c2c"/>
<rect x="639.78" y="445" width="8.76" height="1" fill="#121212"/>
<rect x="648.24" y="445" width="20.04" height="1" fill="#000000"/>
<rect x="667.98" y="445" width="17.82" height="1" fill="#2e2e2e"/>
<rect x="631" y="446" width="19.33" height="1" fill="#575757"/>
<rect x="650.03" y="446" width="14.38" height="1" fill="#595959"/>
<rect x="664.12" y="446" width="20.13" height="1" fill="#626262"/>
<rect x="683.94" y="446" width="1.86" height="1" fill="#8d8d8d"/>
<rect x="631" y="447" width="21.96" height="1" fill="#525252"/>
<rect x="652.66" y="447" width="15.13" height="1" fill="#636363"/>
<rect x="667.5" y="447" width="15.01" height="1" fill="#484848"/>
<rect x="682.2" y="447" width="3.6" height="1" fill="#3f3f3f"/>
<rect x="631" y="448" width="13.58" height="1" fill="#343434"/>
<rect x="644.28" y="448" width="21.74" height="1" fill="#1e1e1e"/>
<rect x="665.72" y="448" width="15.29" height="1" fill="#0c0c0c"/>
<rect x="680.71" y="448" width="5.09" height="1" fill="#080808"/>
<rect x="631" y="449" width="20.44" height="1" fill="#7e7e7e"/>
<rect x="651.14" y="449" width="19.3" height="1" fill="#979797"/>
<rect x="670.15" y="449" width="15.65" height="1" fill="#909090"/>
<rect x="631" y="450" width="13.39" height="1" fill="#646464"/>
<rect x="644.09" y="450" width="12.23" height="1" fill="#575757"/>
<rect x="656.02" y="450" width="19.08" height="1" fill="#636363"/>
<rect x="674.8" y="450" width="11" height="1" fill="#737373"/>
<rect x="631" y="451" width="17.4" height="1" fill="#1e1e1e"/>
<rect x="648.1" y="451" width="8.46" height="1" fill="#1c1c1c"/>
<rect x="656.26" y="451" width="11.81" height="1" fill="#232323"/>
<rect x="667.77" y="451" width="14.78" height="1" fill="#2c2c2c"/>
<rect x="682.25" y="451" width="3.55" height="1" fill="#2b2b2b"/>
<rect x="631" y="452" width="17.32" height="1" fill="#787878"/>
<rect x="648.02" y="452" width="19.89" height="1" fill="#606060"/>
<rect x="667.61" y="452" width="18.19" height="1" fill="#808080"/>
<rect x="631" y="453" width="21.97" height="1" fill="#787878"/>
<rect x="652.67" y="453" width="15.55" height="1" fill="#5d5d5d"/>
<rect x="667.92" y="453" width="10.63" height="1" fill="#707070"/>
<rect x="678.25" y="453" width="7.55" height="1" fill="#5a5a5a"/>
<rect x="631" y="454" width="17.98" height="1" fill="#292929"/>
<rect x="648.68" y="454" width="18.52" height="1" fill="#070707"/>
<rect x="666.9" y="454" width="18.9" height="1" fill="#212121"/>
<rect x="631" y="455" width="14.19" height="1" fill="#969696"/>
<rect x="644.89" y="455" width="19.15" height="1" fill="#979797"/>
<rect x="663.74" y="455" width="18.39" height="1" fill="#727272"/>
<rect x="681.82" y="455" width="3.98" height="1" fill="#8b8b8b"/>
<rect x="631" y="456" width="11.37" height="1" fill="#6d6d6d"/>
<rect x="642.07" y="456" width="17.13" height="1" fill="#454545"/>
<rect x="658.9" y="456" width="14.9" height="1" fill="#515151"/>
<rect x="673.5" y="456" width="9.06" height="1" fill="#4b4b4b"/>
<rect x="682.26" y="456" width="3.54" height="1" fill="#4e4e4e"/>
<rect x="631" y="457" width="11.01" height="1" fill="#020202"/>
<rect x="641.71" y="457" width="14.81" height="1" fill="#171717"/>
<rect x="656.22" y="457" width="16.87" height="1" fill="#242424"/>
<rect x="672.79" y="457" width="11.63" height="1" fill="#373737"/>
<rect x="684.12" y="457" width="1.68" height="1" fill="#181818"/>
<rect x="631" y="458" width="14.04" height="1" fill="#5d5d5d"/>
<rect x="644.74" y="458" width="19.94" height="1" fill="#6c6c6c"/>
<rect x="664.38" y="458" width="8.8" height="1" fill="#7b7b7b"/>
<rect x="672.88" y="458" width="9.63" height="1" fill="#777777"/>
<rect x="682.21" y="458" width="3.59" height="1" fill="#797979"/>
<rect x="631" y="459" width="19.76" height="1" fill="#7c7c7c"/>
<rect x="650.46" y="459" width="19.68" height="1" fill="#8a8a8a"/>
<rect x="669.84" y="459" width="13.47" height="1" fill="#6b6b6b"/>
<rect x="683.01" y="459" width="2.79" height="1" fill="#858585"/>
<rect x="631" y="460" width="21.7" height="1" fill="#3d3d3d"/>
<rect x="652.4" y="460" width="16.82" height="1" fill="#171717"/>
<rect x="668.92" y="460" width="16.88" height="1" fill="#020202"/>
<rect x="631" y="461" width="16.22" height="1" fill="#737373"/>
<rect x="646.92" y="461" width="10.27" height="1" fill="#747474"/>
<rect x="656.89" y="461" width="20.78" height="1" fill="#646464"/>
<rect x="677.37" y="461" width="8.43" height="1" fill="#5b5b5b"/>
<rect x="631" y="462" width="21.91" height="1" fill="#4d4d4d"/>
<rect x="652.61" y="462" width="21.76" height="1" fill="#6e6e6e"/>
<rect x="674.07" y="462" width="11.73" height="1" fill="#464646"/>
<rect x="631" y="463" width="22.03" height="1" fill="#222222"/>
<rect x="652.73" y="463" width="14.12" height="1" fill="#171717"/>
<rect x="666.55" y="463" width="19.25" height="1" fill="#222222"/>
<rect x="631" y="464" width="14.98" height="1" fill="#6b6b6b"/>
<rect x="645.68" y="464" width="17" height="1" fill="#7e7e7e"/>
<rect x="662.38" y="464" width="12.4" height="1" fill="#939393"/>
<rect x="674.48" y="464" width="11.32" height="1" fill="#646464"/>
<rect x="631" y="465" width="12.13" height="1" fill="#878787"/>
<rect x="642.83" y="465" width="19.25" height="1" fill="#5d5d5d"/>
<rect x="661.78" y="465" width="12.05" height="1" fill="#575757"/>
<rect x="673.53" y="465" width="12.27" height="1" fill="#606060"/>
<rect x="631" y="466" width="16.81" height="1" fill="#222222"/>
<rect x="647.51" y="466" width="17.33" height="1" fill="#2a2a2a"/>
<rect x="664.54" y="466" width="18.71" height="1" fill="#0c0c0c"/>
<rect x="682.95" y="466" width="2.85" height="1" fill="#181818"/>
<rect x="631" y="467" width="13.01" height="1" fill="#909090"/>
<rect x="643.71" y="467" width="15.72" height="1" fill="#9a9a9a"/>
<rect x="659.12" y="467" width="13.35" height="1" fill="#acacac"/>
<rect x="672.18" y="467" width="13.62" height="1" fill="#808080"/>
<rect x="631" y="468" width="14.68" height="1" fill="#757575"/>
<rect x="645.38" y="468" width="20.73" height="1" fill="#5e5e5e"/>
<rect x="665.81" y="468" width="8.5" height="1" fill="#6c6c6c"/>
<rect x="674.01" y="468" width="11.79" height="1" fill="#606060"/>
<rect x="631" y="469" width="18.21" height="1" fill="#2d2d2d"/>
<rect x="648.91" y="469" width="15.05" height="1" fill="#3e3e3e"/>
<rect x="663.66" y="469" width="13.7" height="1" fill="#1e1e1e"/>
<rect x="677.06" y="469" width="8.74" height="1" fill="#121212"/>
<rect x="631" y="470" width="19.92" height="1" fill="#707070"/>
<rect x="650.62" y="470" width="20.01" height="1" fill="#979797"/>
<rect x="670.33" y="470" width="14.36" height="1" fill="#7e7e7e"/>
<rect x="684.39" y="470" width="1.41" height="1" fill="#a4a4a4"/>
<rect x="631" y="471" width="15" height="1" fill="#595959"/>
<rect x="645.7" y="471" width="15.27" height="1" fill="#4b4b4b"/>
<rect x="660.67" y="471" width="10.45" height="1" fill="#5b5b5b"/>
<rect x="670.81" y="471" width="14.99" height="1" fill="#3b3b3b"/>
<rect x="631" y="472" width="11.52" height="1" fill="#393939"/>
<rect x="642.22" y="472" width="19.38" height="1" fill="#303030"/>
<rect x="661.3" y="472" width="8.66" height="1" fill="#333333"/>
<rect x="669.66" y="472" width="16.14" height="1" fill="#444444"/>
<rect x="631" y="473" width="8.98" height="1" fill="#c5c5c5"/>
<rect x="639.68" y="473" width="11.37" height="1" fill="#b9b9b9"/>
<rect x="650.75" y="473" width="21.63" height="1" fill="#bebebe"/>
<rect x="672.09" y="473" width="10.18" height="1" fill="#a4a4a4"/>
<rect x="681.97" y="473" width="3.83" height="1" fill="#9b9b9b"/>
<rect x="631" y="474" width="14.1" height="1" fill="#666666"/>
<rect x="644.8" y="474" width="17.01" height="1" fill="#5f5f5f"/>
<rect x="661.51" y="474" width="9.82" height="1" fill="#737373"/>
<rect x="671.02" y="474" width="9.31" height="1" fill="#606060"/>
<rect x="680.03" y="474" width="5.77" height="1" fill="#898989"/>
<rect x="631" y="475" width="20.6" height="1" fill="#0f0f0f"/>
<rect x="651.3" y="475" width="14.34" height="1" fill="#1a1a1a"/>
<rect x="665.34" y="475" width="16.7" height="1" fill="#252525"/>
<rect x="681.74" y="475" width="4.06" height="1" fill="#1e1e1e"/>
<rect x="631" y="476" width="18.06" height="1" fill="#626262"/>
<rect x="648.76" y="476" width="17.14" height="1" fill="#777777"/>
<rect x="665.6" y="476" width="20.2" height="1" fill="#7b7b7b"/>
<rect x="631" y="477" width="11.99" height="1" fill="#7e7e7e"/>
<rect x="642.69" y="477" width="11.86" height="1" fill="#8a8a8a"/>
<rect x="654.24" y="477" width="15.54" height="1" fill="#656565"/>
<rect x="669.48" y="477" width="11.58" height="1" fill="#737373"/>
<rect x="680.76" y="477" width="5.04" height="1" fill="#686868"/>
<rect x="631" y="478" width="18.29" height="1" fill="#2f2f2f"/>
<rect x="648.99" y="478" width="9.49" height="1" fill="#303030"/>
<rect x="658.18" y="478" width="9.58" height="1" fill="#0f0f0f"/>
<rect x="667.46" y="478" width="16.62" height="1" fill="#161616"/>
<rect x="683.77" y="478" width="2.03" height="1" fill="#242424"/>
<rect x="631" y="479" width="19.45" height="1" fill="#717171"/>
<rect x="650.15" y="479" width="18.45" height="1" fill="#727272"/>
<rect x="668.3" y="479" width="10.41" height="1" fill="#a9a9a9"/>
<rect x="678.41" y="479" width="7.39" height="1" fill="#7d7d7d"/>
<rect x="631" y="480" width="21.92" height="1" fill="#5d5d5d"/>
<rect x="652.62" y="480" width="19.79" height="1" fill="#3d3d3d"/>
<rect x="672.11" y="480" width="13.69" height="1" fill="#4a4a4a"/>
<rect x="631" y="481" width="11.59" height="1" fill="#1b1b1b"/>
<rect x="642.29" y="481" width="16.89" height="1" fill="#1c1c1c"/>
<rect x="658.88" y="481" width="13.7" height="1" fill="#0f0f0f"/>
<rect x="672.28" y="481" width="13.52" height="1" fill="#2e2e2e"/>
<rect x="631" y="482" width="14.37" height="1" fill="#cccccc"/>
<rect x="645.07" y="482" width="15.54" height="1" fill="#bcbcbc"/>
<rect x="660.31" y="482" width="16.33" height="1" fill="#c5c5c5"/>
<rect x="676.34" y="482" width="9.46" height="1" fill="#9d9d9d"/>
<rect x="631" y="483" width="11.13" height="1" fill="#2d2d2d"/>
<rect x="641.83" y="483" width="20.75" height="1" fill="#484848"/>
<rect x="662.28" y="483" width="18.94" height="1" fill="#2b2b2b"/>
<rect x="680.93" y="483" width="4.87" height="1" fill="#616161"/>
<rect x="631" y="484" width="16.97" height="1" fill="#1f1f1f"/>
<rect x="647.67" y="484" width="14.82" height="1" fill="#0b0b0b"/>
<rect x="662.19" y="484" width="10.47" height="1" fill="#0f0f0f"/>
<rect x="672.36" y="484" width="13.44" height="1" fill="#1d1d1d"/>
<rect x="631" y="485" width="10.43" height="1" fill="#aaaaaa"/>
<rect x="641.13" y="485" width="12.18" height="1" fill="#a4a4a4"/>
<rect x="653.01" y="485" width="12.32" height="1" fill="#a8a8a8"/>
<rect x="665.03" y="485" width="15.05" height="1" fill="#9c9c9c"/>
<rect x="679.78" y="485" width="6.02" height="1" fill="#b1b1b1"/>
<rect x="631" y="486" width="17.93" height="1" fill="#949494"/>
<rect x="648.63" y="486" width="14.9" height="1" fill="#a5a5a5"/>
<rect x="663.23" y="486" width="9.95" height="1" fill="#949494"/>
<rect x="672.88" y="486" width="12.38" height="1" fill="#959595"/>
<rect x="684.96" y="486" width="0.84" height="1" fill="#757575"/>
<rect x="631" y="487" width="11.11" height="1" fill="#050505"/>
<rect x="641.81" y="487" width="11.53" height="1" fill="#080808"/>
<rect x="653.04" y="487" width="13.91" height="1" fill="#3f3f3f"/>
<rect x="666.66" y="487" width="13.4" height="1" fill="#171717"/>
<rect x="679.76" y="487" width="6.04" height="1" fill="#151515"/>
<rect x="631" y="488" width="18.35" height="1" fill="#919191"/>
<rect x="649.05" y="488" width="11.67" height="1" fill="#b0b0b0"/>
<rect x="660.42" y="488" width="21.47" height="1" fill="#afafaf"/>
<rect x="681.59" y="488" width="4.21" height="1" fill="#c3c3c3"/>
<rect x="631" y="489" width="9.15" height="1" fill="#4e4e4e"/>
<rect x="639.85" y="489" width="14.04" height="1" fill="#212121"/>
<rect x="653.59" y="489" width="15.98" height="1" fill="#5b5b5b"/>
<rect x="669.27" y="489" width="15.57" height="1" fill="#333333"/>
<rect x="684.54" y="489" width="1.26" height="1" fill="#222222"/>
<rect x="631" y="490" width="20.88" height="1" fill="#202020"/>
<rect x="651.58" y="490" width="21.4" height="1" fill="#050505"/>
<rect x="672.68" y="490" width="11.71" height="1" fill="#050505"/>
<rect x="684.09" y="490" width="1.71" height="1" fill="#050505"/>
<rect x="631" y="491" width="14" height="1" fill="#696969"/>
<rect x="644.7" y="491" width="9.02" height="1" fill="#585858"/>
<rect x="653.42" y="491" width="21.9" height="1" fill="#616161"/>
<rect x="675.03" y="491" width="10.77" height="1" fill="#6f6f6f"/>
<rect x="631" y="492" width="9.48" height="1" fill="#525252"/>
<rect x="640.18" y="492" width="9.81" height="1" fill="#606060"/>
<rect x="649.69" y="492" width="21.2" height="1" fill="#646464"/>
<rect x="670.59" y="492" width="15.21" height="1" fill="#4c4c4c"/>
<rect x="631" y="493" width="8.54" height="1" fill="#212121"/>
<rect x="639.24" y="493" width="15.11" height="1" fill="#222222"/>
<rect x="654.06" y="493" width="13.57" height="1" fill="#262626"/>
<rect x="667.33" y="493" width="18.46" height="1" fill="#373737"/>
<rect x="685.49" y="493" width="0.31" height="1" fill="#1b1b1b"/>
<rect x="631" y="494" width="11.44" height="1" fill="#888888"/>
<rect x="642.14" y="494" width="12.66" height="1" fill="#878787"/>
<rect x="654.5" y="494" width="19.11" height="1" fill="#b3b3b3"/>
<rect x="673.31" y="494" width="12.49" height="1" fill="#898989"/>
<rect x="631" y="495" width="11.73" height="1" fill="#1a1a1a"/>
<rect x="642.43" y="495" width="14.3" height="1" fill="#383838"/>
<rect x="656.43" y="495" width="11.74" height="1" fill="#181818"/>
<rect x="667.86" y="495" width="17.94" height="1" fill="#181818"/>
<rect x="631" y="496" width="11.1" height="1" fill="#0e0e0e"/>
<rect x="641.8" y="496" width="13.53" height="1" fill="#030303"/>
<rect x="655.03" y="496" width="14.19" height="1" fill="#101010"/>
<rect x="668.92" y="496" width="16.88" height="1" fill="#1f1f1f"/>
<rect x="631" y="497" width="17.46" height="1" fill="#adadad"/>
<rect x="648.16" y="497" width="16.35" height="1" fill="#9a9a9a"/>
<rect x="664.2" y="497" width="19.74" height="1" fill="#a7a7a7"/>
<rect x="683.64" y="497" width="2.16" height="1" fill="#ababab"/>
<rect x="631" y="498" width="12.05" height="1" fill="#6d6d6d"/>
<rect x="642.75" y="498" width="13.65" height="1" fill="#434343"/>
<rect x="656.1" y="498" width="9.22" height="1" fill="#454545"/>
<rect x="665.02" y="498" width="11.98" height="1" fill="#646464"/>
<rect x="676.7" y="498" width="9.1" height="1" fill="#3f3f3f"/>
<rect x="631" y="499" width="18.99" height="1" fill="#1c1c1c"/>
<rect x="649.69" y="499" width="8.68" height="1" fill="#000000"/>
<rect x="658.08" y="499" width="10.12" height="1" fill="#101010"/>
<rect x="667.9" y="499" width="17.9" height="1" fill="#343434"/>
<rect x="631" y="500" width="11.54" height="1" fill="#767676"/>
<rect x="642.24" y="500" width="13.37" height="1" fill="#707070"/>
<rect x="655.31" y="500" width="8.47" height="1" fill="#808080"/>
<rect x="663.48" y="500" width="19.88" height="1" fill="#888888"/>
<rect x="683.06" y="500" width="2.74" height="1" fill="#7c7c7c"/>
<rect x="631" y="501" width="18.23" height="1" fill="#242424"/>
<rect x="648.93" y="501" width="21.44" height="1" fill="#393939"/>
<rect x="670.07" y="501" width="9.95" height="1" fill="#1c1c1c"/>
<rect x="679.73" y="501" width="6.07" height="1" fill="#252525"/>
<rect x="631" y="502" width="14.38" height="1" fill="#121212"/>
<rect x="645.08" y="502" width="19.05" height="1" fill="#313131"/>
<rect x="663.82" y="502" width="15.76" height="1" fill="#333333"/>
<rect x="679.28" y="502" width="6.52" height="1" fill="#000000"/>
<rect x="631" y="503" width="14.17" height="1" fill="#676767"/>
<rect x="644.87" y="503" width="21.99" height="1" fill="#666666"/>
<rect x="666.56" y="503" width="16.38" height="1" fill="#818181"/>
<rect x="682.64" y="503" width="3.16" height="1" fill="#7c7c7c"/>
<rect x="631" y="504" width="12.18" height="1" fill="#0e0e0e"/>
<rect x="642.88" y="504" width="16.17" height="1" fill="#181818"/>
<rect x="658.75" y="504" width="18.82" height="1" fill="#111111"/>
<rect x="677.27" y="504" width="8.53" height="1" fill="#111111"/>
<rect x="631" y="505" width="22.05" height="1" fill="#282828"/>
<rect x="652.75" y="505" width="20.2" height="1" fill="#1a1a1a"/>
<rect x="672.65" y="505" width="13.15" height="1" fill="#000000"/>
<rect x="631" y="506" width="15.16" height="1" fill="#5d5d5d"/>
<rect x="645.86" y="506" width="10.67" height="1" fill="#616161"/>
<rect x="656.24" y="506" width="18.35" height="1" fill="#929292"/>
<rect x="674.28" y="506" width="11.09" height="1" fill="#8c8c8c"/>
<rect x="685.07" y="506" width="0.73" height="1" fill="#858585"/>
<rect x="631" y="507" width="17.02" height="1" fill="#5a5a5a"/>
<rect x="647.72" y="507" width="13.57" height="1" fill="#2a2a2a"/>
<rect x="660.99" y="507" width="15.46" height="1" fill="#4d4d4d"/>
<rect x="676.16" y="507" width="9.64" height="1" fill="#414141"/>
<rect x="631" y="508" width="12.74" height="1" fill="#000000"/>
<rect x="643.44" y="508" width="12.67" height="1" fill="#080808"/>
<rect x="655.81" y="508" width="14.97" height="1" fill="#1c1c1c"/>
<rect x="670.48" y="508" width="13.89" height="1" fill="#2d2d2d"/>
<rect x="684.06" y="508" width="1.74" height="1" fill="#2a2a2a"/>
<rect x="631" y="509" width="17.68" height="1" fill="#656565"/>
<rect x="648.38" y="509" width="19.48" height="1" fill="#5b5b5b"/>
<rect x="667.56" y="509" width="16.61" height="1" fill="#6e6e6e"/>
<rect x="683.87" y="509" width="1.93" height="1" fill="#565656"/>
<rect x="631" y="510" width="9.52" height="1" fill="#000000"/>
<rect x="640.22" y="510" width="16.43" height="1" fill="#111111"/>
<rect x="656.35" y="510" width="18.3" height="1" fill="#000000"/>
<rect x="674.35" y="510" width="11.45" height="1" fill="#000000"/>
<rect x="631" y="511" width="18.32" height="1" fill="#000000"/>
<rect x="649.02" y="511" width="18.85" height="1" fill="#171717"/>
<rect x="667.57" y="511" width="18.23" height="1" fill="#252525"/>
<rect x="631" y="512" width="20.04" height="1" fill="#676767"/>
<rect x="650.74" y="512" width="16.85" height="1" fill="#474747"/>
<rect x="667.29" y="512" width="15.53" height="1" fill="#717171"/>
<rect x="682.52" y="512" width="3.28" height="1" fill="#767676"/>
<rect x="631" y="513" width="13.81" height="1" fill="#000000"/>
<rect x="644.51" y="513" width="13.76" height="1" fill="#080808"/>
<rect x="657.97" y="513" width="17.44" height="1" fill="#343434"/>
<rect x="675.11" y="513" width="10.69" height="1" fill="#222222"/>
<rect x="631" y="514" width="13.71" height="1" fill="#000000"/>
<rect x="644.41" y="514" width="17.94" height="1" fill="#0d0d0d"/>
<rect x="662.06" y="514" width="18.31" height="1" fill="#020202"/>
<rect x="680.07" y="514" width="5.73" height="1" fill="#000000"/>
<rect x="631" y="515" width="12.05" height="1" fill="#353535"/>
<rect x="642.75" y="515" width="20.86" height="1" fill="#191919"/>
<rect x="663.31" y="515" width="17.16" height="1" fill="#3e3e3e"/>
<rect x="680.17" y="515" width="5.63" height="1" fill="#131313"/>
<rect x="631" y="516" width="19.92" height="1" fill="#2c2c2c"/>
<rect x="650.62" y="516" width="18.49" height="1" fill="#0f0f0f"/>
<rect x="668.82" y="516" width="14.26" height="1" fill="#161616"/>
<rect x="682.77" y="516" width="3.03" height="1" fill="#080808"/>
<rect x="631" y="517" width="12.23" height="1" fill="#0e0e0e"/>
<rect x="642.93" y="517" width="21.83" height="1" fill="#000000"/>
<rect x="664.46" y="517" width="8.73" height="1" fill="#000000"/>
<rect x="672.89" y="517" width="12.91" height="1" fill="#0e0e0e"/>
<line x1="631" y1="433.5" x2="685.5" y2="433.5" stroke="#111" stroke-width="1.2"/>
<line x1="631" y1="517.2" x2="685.5" y2="517.2" stroke="#111" stroke-width="1.2"/>
<line x1="685.5" y1="433" x2="685.5" y2="517.7" stroke="#111" stroke-width="1"/>
<path d="M685.5 433 L699.5 443 L699.5 507.7 L685.5 517.7" stroke="#1a1a1a" stroke-width="1" fill="none"/>
</svg>
</body></html>
